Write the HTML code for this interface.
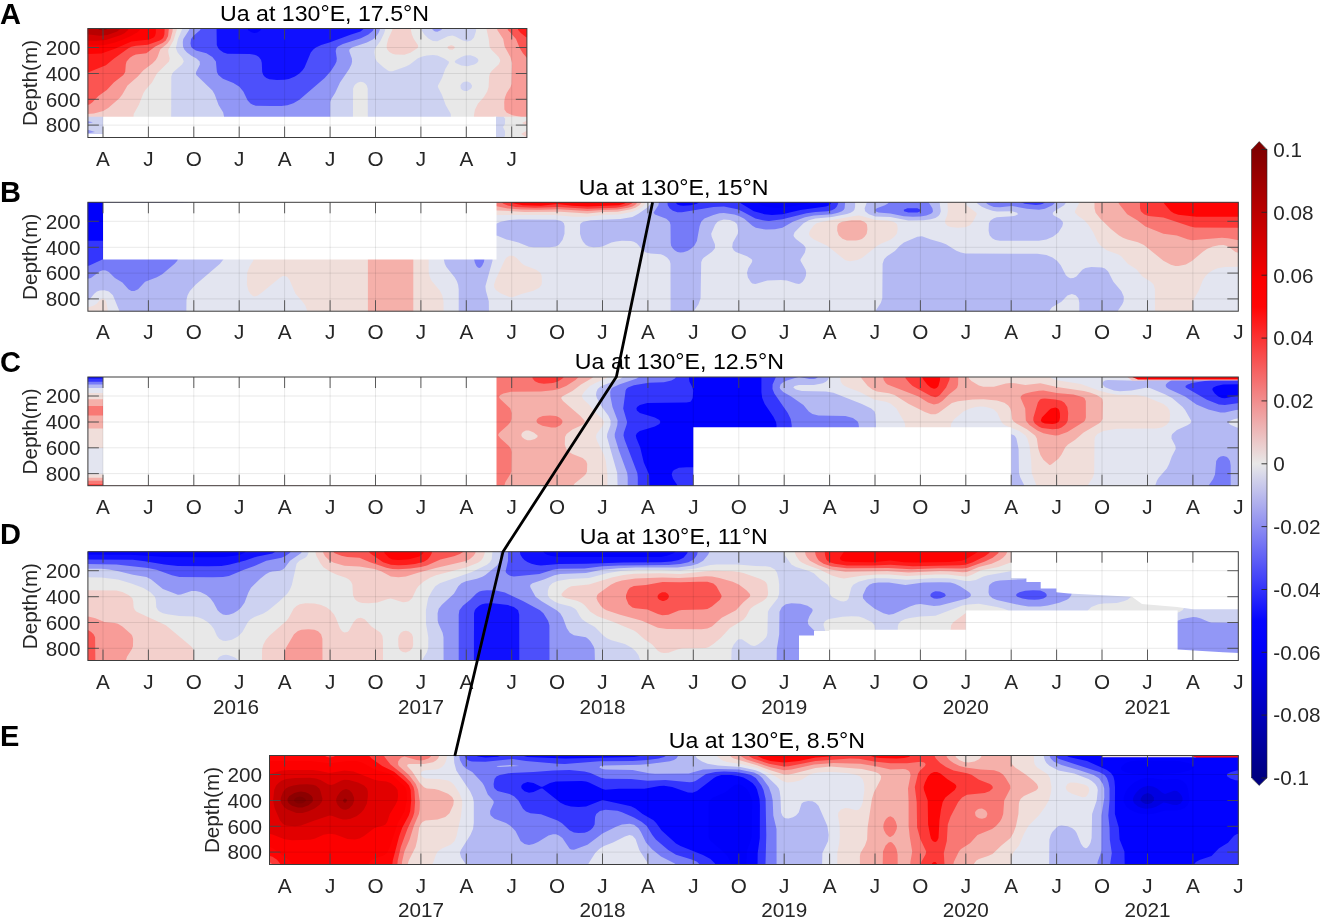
<!DOCTYPE html>
<html><head><meta charset="utf-8"><title>Ua at 130E</title>
<style>
html,body{margin:0;padding:0;background:#fff}
svg{display:block}
text{font-family:"Liberation Sans",Arial,sans-serif;fill:#262626}
.tk{font-size:20.7px}
.ti{font-size:22.5px;fill:#000}
.pl{font-size:29.6px;font-weight:bold;fill:#000}
</style></head><body>
<svg width="1320" height="920" viewBox="0 0 1320 920">
<rect width="1320" height="920" fill="#fff"/>
<clipPath id="cpA"><rect x="87.9" y="28.5" width="439.0" height="109.0"/></clipPath>
<g clip-path="url(#cpA)">
<rect x="86.9" y="27.5" width="441.0" height="111.0" fill="#e8e8e8"/>
<path d="M84.9 25.5l92.3 0-0.5 4.5-3.2 10.5-5.2 9 0 3 1.4 6-0.7 3-12.1 12-4.9 9-6.6 7.5-1.9 3-4.6 11.8-5.2 9.2-0.7 9-0.4 1.5-1.6 1.5-5.6 0.5-6-0.6-3.5-1.4-5.5-4.6-4.5-1.6-4.5-0.4-16.5 0.9zM393.1 25.5l17.5 0 0.3 4.5 1 4.5 1.9 4.5 4.1 6 0.3 1.5-0.6 1.5-7.2 4.7-6 2.1-9-0.3-3-0.8-3-1.7-2.1-2.5-0.6-1.5 0-3 1.5-6 4.1-9zM486.5 25.5l43.9 0 0 97.5-16.5-1-13.5-4.6-4.5-0.9-3 0.4-3 1.3-2.2 1.8-3.8 4.7-3 1.5-3.5-0.2-2.3-1.5-0.8-1.5-0.4-7.5 1-5.8 3-6 6-6.7 3.3-5.5 1.4-4.5 0.5-10.5 0.8-3 2.2-3 6.5-6 1.5-3 0-1.5-1.4-3-7.5-7.5-1.7-3-0.8-7.5-2-9zM447.8 46.5l3.1-1.3 1.5 0.2 2 1.1 0.4 1.5-2.4 1.8-3-0.2-1.9-1.6zM524.9 132l5.5-1.1 0 10.1-11.1 0 0.3-3 1.2-3z" fill="#f3d0cc"/>
<path d="M84.9 25.5l88.1 0-0.5 6-2.1 7.8-3 4.1-7.2 6.1-2.7 7.5-1.7 3-3.4 3.4-9 6.8-5.6 6.3-10.3 9-5.2 9-2.9 3.8-11.2 9.7-5 3-9.3 2.4-9 0.9zM496.6 25.5l33.8 0 0 92-9-0.6-9-1.6-5.9-2.8-2.1-3-0.2-7.5 0.7-4.5 1.8-4.5 3.8-6 1-3 0.6-21-1.7-6-5.8-10.5-1.4-7.5-5.9-9z" fill="#f89c98"/>
<path d="M84.9 25.5l84.3 0-1.1 10.5-2.3 4.5-2.9 2.2-7.7 3.8-8.8 6.7-10.5 1.3-3 1.2-3 2.1-3.3 3.7-0.8 3-0.6 7.5-1.8 3-9.6 7.5-7 7.5-8.4 5.9-6 6.4-3 2.1-4.5 1.3zM506.7 25.5l23.7 0 0 34.5-3-1.5-4.5-5.2-3.2-5.3-3.7-9-8.1-9z" fill="#fb5552"/>
<path d="M84.9 25.5l79.9 0-0.4 8.7-1 3.3-1.3 1.5-2.4 1.5-11.8 4.3-12 0.9-4.5 1.1-3 1.5-14.3 10.2-8.2 6.8-18 7.2-3 0.7zM516.8 25.5l13.6 0 0 13.4-4.5-1.9-5.1-4-2.6-3z" fill="#fe1c1a"/>
<path d="M84.9 25.5l71 0-0.1 7.5-0.8 3-1.4 1.5-4.2 2-18 2.1-16.5 7.1-13.5 4.9-16.5 0.4z" fill="#fe0202"/>
<path d="M84.9 25.5l55.9 0-1.1 4.5-2.3 2.3-6.6 3.7-8.4 3.7-7.5 2.8-9 2.2-6 0.7-9 0.1-6 0z" fill="#f00000"/>
<path d="M84.9 25.5l44.7 0-1.5 4.5-3.3 3-3.9 2.1-15 4.8-9 0.8-12-0.1z" fill="#d40000"/>
<path d="M84.9 25.5l36.8 0-0.9 3-3.6 3-9.8 3.4-7.5 0.9-15-1.8z" fill="#b70000"/>
<path d="M95.6 25.5l14.7 0-1.9 3-2.5 1.3-3 0.5-3-0.3-2.7-1.5z" fill="#9a0000"/>
<path d="M182.7 25.5l202.9 0-0.5 4.5-0.9 3-3.8 8-5 7-0.7 1.5-0.3 3 0.9 6 1.7 3 6.4 5.8 4.5 3.2 1.5 0.7 3 0.1 13.5-4.7 3.9-2.1 8.1-6.3 4.5-1.8 4.5-0.8 6-0.7 4.5 0.5 6.8 3.1 4.6 3 0.1 1.5-3.6 6-3.4 9.2-3.9 7.3-0.1 1.5 4 7.8 3.8 10.2 5.1 9 0.4 27-83.3 0-0.2-52.5-0.9-3-1.4-1.8-1.6-1.2-2.9-0.7-3 0.7-2.2 1.5-1.3 1.5-1.3 3-0.3 52.5-181.7 0 0.2-64.5 1-3 1.1-1.5 8.6-7.5 1.8-3-1.2-3-5-6-1.7-4.5 2-9 3.9-9zM420.9 25.5l55.5 0-0.5 6-1.9 6-2.9 3-3.7 1.1-4.5-1.1-7.5-4.1-3-0.9-4.5 0.8-10.5 5-4.5-0.3-4.5-2.6-4.5-4.5-2.3-3.9zM465.2 55.5l5.2-0.2 4.5 1.5 2.6 1.7 0.9 1.5-0.2 1.5-1.3 1.5-2.6 1.5-6.9 1.8-6-0.7-5.9-2.6-0.8-1.5 1.3-1.5 5.3-3zM462.8 82.5l1.6-0.7 3-0.2 3 1.4 1.6 2.5-0.1 1.5-0.8 1.5-3.7 2.5-3 0-2.2-1-1.4-1.5-0.4-3 0.8-1.5zM95 123l7.9 0.5 9.9 5.5 9.6 3.4 3.3 2.6 1.3 3 0.3 3-42.4 0 0-17.8zM495.4 124.5l2-0.5 2.7 0.5 2.3 1.5 1.1 1.5 0.6 3 0 10.5-30.2 0 0.5-3 1.1-1.5 2.3-1.5 10.6-3.7z" fill="#cdd2f1"/>
<path d="M190.1 25.5l190.3 0-0.6 4.5-1.3 3-2.6 3.8-3 2.8-6 2.9-15 5.1-2.5 1.9-0.2 1.5 2.7 7.5 0.2 3-0.7 3-2.2 4.5-9.2 13.5-4.9 10.5-3.8 6-1 3-0.2 39-106 0 0-24-0.9-4.5-4.6-7.5-3.9-10.5-2.3-4-16.1-15.5-0.4-1.5 0.2-1.5 3.8-7.5-0.2-3-3.2-3-5.1-2.8-4.4-3.2-2.7-3-1.3-3-0.2-4.5 0.5-3 5.8-9zM431.3 25.5l12.2 0-1 3-1.3 1.5-3.8 1.8-2.4-0.3-2.1-1.4-1-1.6zM84.9 132l0-1.2 13.5 0.1 4.5 0.8 15 4.3 2.1 2 0.6 3-35.7 0z" fill="#9297f6"/>
<path d="M201.4 25.5l173 0-0.4 3-1.1 2.2-4.5 3.9-7.5 3.6-18 5.7-5 2.6-1.4 1.5-0.8 3 1.1 7.5-0.3 3-1.4 3-4.2 6.5-6.2 7-25.3 21.7-6 3.6-6 1.9-6 0.7-10.5 0.1-15-0.3-3-0.9-2.4-1.3-2.8-3-4.4-9-3.9-4.7-6-3.9-10.5-4.2-4.5-3.7-1.5-3-1-10.5-3.5-4.4-6-3.9-10.5-2.8-3.8-2.4-1-1.5-0.6-3 0.6-4.5 2.2-3 6.9-6z" fill="#4d50fb"/>
<path d="M216.5 25.5l148.6 0-0.9 3-3.7 3-10.1 3.2-21 7.9-8.2 2.4-5.3 2.5-2.6 2-2.5 3-6.3 15-2.1 3.1-3 3-4.5 3-6 2.3-4.5 0.8-7.5 0.3-7.5-0.7-3-1.3-1.9-1.5-1.2-1.5-1.1-3-0.4-9-0.7-3-2.2-3-2.3-1.5-2.2-0.8-4.5-0.6-22.5-0.4-3.9-1.2-3.6-2.5-1.8-2-1.3-3z" fill="#1010ff"/>
<path d="M246.9 25.5l15 0-0.5 3-1 1.8-3 2.1-3 0.5-3-0.6-3-2-1-1.8z" fill="#0101fc"/>
<path d="M103 116.7H496V140H103Z" fill="#fff"/>
<path d="M86 133.5H104V140H86Z" fill="#fff"/>
<path d="M86 116.7H103V133.5H86Z" fill="#cdd2f0" stroke="none"/>
<path d="M87 121l6 1.2l-6 1.5z" fill="#9297f5" stroke="none"/>
<path d="M87 129.5l8 2.5l-8 1.5z" fill="#9297f5" stroke="none"/>
<path d="M496 116.7H505V139H496Z" fill="#cdd2f0" stroke="none"/>
<path d="M503.5 116.7H528V139H503.5L506 133L503 127L507 121Z" fill="#e8e8e8" stroke="none"/>
<path d="M528 120l-6 3l6 3zM528 130l-7 4l7 4z" fill="#f3d0cc" stroke="none"/>
</g>
<clipPath id="cpB"><rect x="87.9" y="202.3" width="1150.4" height="108.9"/></clipPath>
<g clip-path="url(#cpB)">
<rect x="86.9" y="201.3" width="1152.4" height="110.9" fill="#f0deda"/>
<path d="M367.9 199.3l45.4 0 0 115.5-45.4 0zM424.2 199.3l218 0-0.5 3-2.3 3-4 2.5-4.5 1.5-13.5 2.4-15 0.4-15 1.5-27-1.9-36 0.2-31.5-1.7-40.5-0.3-22.5-3.2-3-1.4-1.5-1.5zM1094.5 199.3l146.9 0 0 54.3-6-1.6-6.1-4.7-2.9-1.5-3-0.8-4.5 0.2-6 1.4-5.6 2.2-4.4 3-11 9.1-6 3.5-7.5 1.7-3-0.1-4.5-1.2-7.5-4-19.5-15.9-6-2.6-10.5-2.8-4.5-1.7-4.2-2.5-7.8-6.4-10.5-10.1-4.8-6-1.1-4.5zM851.6 220.3l8.8 0 3.8 1.5 1.9 1.5 0.9 1.5 0.4 4.5-0.7 4.5-2.1 3-2.7 2.1-3 1.2-3 0.5-9-0.2-4.5-1.7-3.7-3.4-1.5-4.5 0.1-4.5 0.6-1.7 1.1-1.3 3.1-1.5z" fill="#f5b0aa"/>
<path d="M432.7 199.3l205.6 0-0.7 3-2.2 2.5-3 1.6-4.5 1.3-10.5 1.8-15 0.4-15 1.1-28.5-1.8-19.5 0.5-18-0.2-13.5-1.1-15-3-37.5-0.2-12-0.7-7.5-1.2-1.8-1zM1117.3 199.3l124.1 0 0 41.4-13.5-2.5-6-0.5-30 2.5-4.5-0.9-10.5-3.8-13.5-1.8-18-7.2-8.1-6.2-10.1-6-8.3-10.5z" fill="#f97874"/>
<path d="M500.2 199.3l134 0-1.1 3-1.7 1.5-3.3 1.5-5.8 1.5-6.4 0.9-28.5 1-28.5-1.8-24 0.9-19.5-0.9-7.5-1.3-4.5-1.8-1.9-1.5zM1139.9 199.3l101.5 0 0 28.5-46.5-0.3-4.5-1-27-8.9-15-1.5-4.3-1.8-3.2-3-0.9-3z" fill="#fd3a38"/>
<path d="M508.3 199.3l120.3 0-1.8 3-2.8 1.5-5.1 1.4-31.5 1.2-15-0.7-15-1.6-16.5 1.6-18-0.4-10.5-2-2.2-1-1.4-1.5zM1162.7 199.3l78.7 0 0 17.5-45-0.1-18-1.9-4.5-1.6-3.1-1.9-6.5-7.5z" fill="#ff0404"/>
<path d="M519.8 199.3l29.3 0-1.3 1.5-3.6 1.5-9.3 0.7-10.3-0.7-3.6-1.5zM565.2 199.3l55.6 0-0.8 1.5-1.1 0.8-3 1-28.5 0.8-16.5-0.9-4.5-1.7z" fill="#fd0000"/>
<path d="M84.9 199.3l169.5 0-0.1 57-1.1 4.5-3.8 6-2.2 6-0.3 12 1.5 5.6 2 3.4 2.5 2.1 1.5 0.5 3-0.7 4.5-3.1 18-14.9 3-1.6 3 0.1 1.6 1.1 2.2 3 5.8 13.5 6.9 7.6 3 4.3 1.6 4.6 0.3 4.5-199.4 0-0.3-6-1.5-7.5-1.7-2.2-1.5-0.5-2.7 1.2-3.3 3.6-3 2.2-4.5 1.5-4.5 0.5zM646.4 199.3l300.9 0 0.6 12-0.9 4.5-1.9 4.5 0.1 3 2.2 2.4 3 1.3 7.5 0.8 7.5-0.6 4.5-2 3-3.4 3.9-7.5-0.5-1.5-9.7-7.5-1.8-3-0.5-3 115 0-0.5 4.5-3.9 7.5 0.1 1.5 2.9 3 6.4 4.5 4.1 4.4 4.8 7.6 4.2 9.1 3 4.2 6.2 4.7 11.8 4.3 2.8 1.7 6.5 7.5 8.7 5.5 6 7.1 8.4 5.4 2.9 3 1.2 4.5 0.1 25.5-711.4 0-0.1-13.5-1.3-6-2.3-4.5-8.5-10.3-1.5-3.2-1.2-4.5-0.2-55.5 0.9-3 2-1.5 6-0.6 13.5 2.2 16.5 0.9 87-0.4 19.5 1.9 13.5-0.1 15-1.6 16.5-0.6 13.5-2.8 6-2.4 4.5-2.9 2.3-2.6zM855.9 215.7l-33.7 6.1-5.7 1.5-2.6 1.9-4 5.6-1 3 0.4 1.5 1.6 1.9 3 2.3 13.3 6.3 18.2 14.5 4.5 0.9 7.5-1.1 4.5-2 15-12.1 4.5-2.5 9-3.8 3.9-2.9 2.5-3 0.9-4.5-0.5-4.5-1.1-1.5-2.6-1.5-6.1-1.2-12-0.6-13.5-4.1-3-0.5zM509.4 255.8l-3 1.9-1.5 2-9 19.2-1.9 5.9 0.4 3 1.5 2.3 4.5 3.1 9 3.7 3 0.4 9-3.3 12.1-3.2 5.8-3 2.2-3 0.4-3-0.2-6-1.4-3-4.1-3-11.9-4.5-2.9-2.2-4.5-4.9-2.8-1.9-1.7-0.6zM1217.6 268.3l7.3-1.3 16.5-0.2 0 48-48.5 0 0-12 0.6-3 5.2-9 4.1-10.5 2.6-4 3.6-3.5 3.9-2.6z" fill="#e3e5f0"/>
<path d="M84.9 199.3l139.2 0 0 55.5-0.6 4.5-3.5 4.5-24.5 21-5.6 6.2-2.3 4.3-1.1 4.5-0.2 15-66.6 0-0.6-4.5-6.2-15-4-3.8-4.5-1.3-4.5 0.3-3 1.1-2.7 2.2-4.8 5.9-4.5 1.6zM651.8 200.8l0.1-1.5 203.2 0 0 7.5-0.7 3-1.3 1.5-2.5 1.5-3.7 1.3-15 2.9-16.5 1.6-6.6 1.7-5.3 3-8.9 9-1.1 3 0.5 1.5 1.9 2.1 7.5 5.8 2 2.6 0.3 1.5-0.8 3.7-4.3 6.8-0.1 1.5 5.1 9 0.6 3-0.3 3-1.2 3-2 3-2.3 1.8-1.5 0.4-3-0.5-9-2.9-6-0.7-13.5 0.5-12 3.6-3-0.6-1.5-1.1-3-4.9-0.9-4.6 1.2-4.5 3.7-6 0.4-1.5-0.6-1.5-4.7-3-11.1-4.3-2.2-1.7-1.5-3 0.6-4.5 5-9 0.3-3-0.9-6-0.9-1.5-1.8-1.5-4.6-1.7-6-0.7-4.5 1.3-1.9 1.1-2.4 3-3.9 9 0.5 3 3.2 7.5 0.2 3-0.5 1.5-2.6 3-8.3 6-1.3 1.5-1.2 3-0.6 36-2.1 6-4.1 6-1 4.5-22.8 0-0.1-51-0.8-3-2.4-3-3.4-2.4-3-1.1-10.5-0.7-4.5-1.2-3.1-2.1-5.9-6.9-3-1.6-3-0.7-9-0.3-6 0.6-4.5 1.1-9 3.9-3 0.7-6 0.1-4.5-0.6-3-1.6-3-3.5-1.6-3.2-1.3-4.5 0.1-9 0.8-1.5 2.2-1.5 7.6-1.5 29.7-1.2 12-2.2 6-3.1 9-6.2 3.4-3.8zM867.3 199.3l71.9 0 1.6 12-1 3-1.4 1.6-3 2-4.5 1.4-7.5 0.9-15 0.2-18-3.3-15-0.7-6.5-2.1-3.8-3-0.5-3 2.3-6zM975.9 199.3l90.8 0-0.5 3-2.1 3-9.8 6-1.4 1.5-0.1 1.5 1.1 1.1 6 3.4 2.8 3 0.3 1.5-0.7 3-3.9 6.1-5.5 4.4-6.5 2.7-7.5 1.2-12 0.1-27-0.1-4.5-0.8-3.2-1.6-2.6-3-1-4.5 0.3-7.5 1.9-3 3.1-2 3-1 15-1 3.1-0.5 3-1.5-0.9-1.5-5-1.5-15.2 0.1-4.5-0.7-6-1.9-4.6-2-4.2-3-1-1.5zM448.4 220.3l7-0.2 21 3.8 4.4 0.9 7.6 2.8 1.5-0.2 4-2.6 6.7-3 8.8-1.9 9-0.5 37.5 0.3 4.5 1 2 1.1 1.5 1.5 0.7 3-0.1 7.5-1.9 6-3.7 5-3 1.7-6 0.8-16.5 0-4.5-0.5-10.5-4.2-12-3.2-9-3.7-3-0.4-1.1 3-0.8 22.5-7.1 25.5 0.5 4.5 2.9 10.5 0.2 13.5-30.3 0 0-25.5-0.6-4.5-1.2-3.5-2.3-4-8.2-10.2-1.6-3.3-1-4.5 0-34.5 1.5-3zM917.4 236.8l4.5-0.5 9 3.3 10.5 2.8 4.6 1.9 10.4 6.5 4.5 1.7 4.5 0.9 72 0.4 9 1.3 6 2.4 4.6 3.3 3.7 4.5 5.2 10 2.3 2 2.2 0.9 3-0.1 3-1.5 5.9-6.8 3.1-1.8 6-1.1 10.5 0.5 3 1.2 3.1 2.7 5.4 10.5 8 9.5 2.4 5.5-0.2 4.5-1.3 3-4.1 6-1 4.5-37.9 0 0-12-0.9-4.5-2.7-3-3.8-1.3-4.5 1.5-6 6.3-9.4 5.5-2.2 3-0.7 4.5-174.1 0 1-4.5 4.9-7.5 1.4-4.5 0.3-34.5 1.5-4.5 2.9-3 7.9-5.4 4.9-5.1 4.1-3.2z" fill="#b4b9f3"/>
<path d="M84.9 199.3l108 0-0.4 4.5-1.1 3.2-3 3.5-6 3.9-1.5 2.4-1.6 5-0.6 4.5-0.1 30-1.3 4.5-2.7 3-12.4 10.5-5.3 3-11.8 4.5-7 7.5-3.7 1.8-3-0.2-3-1.6-6-6.9-7.5-4.5-6-5.8-3-1.5-3-0.3-3 0.9-9 6.8-6 1.6zM659.3 199.3l186.1 0-0.8 9-0.8 1.5-1.9 1.5-3.9 1.5-6.1 1.4-18 1.3-8.9 1.8-12.2 4.5-10.4 6-7.5 1.5-9 0.3-10.1-1.8-3.4-2-8.1-7-5.4-2.9-4.5-1.4-10.5-1.6-4.5 0.4-6 1.6-9 3.7-3.2 3.2-1.6 4.5-2.7 14.7-2.6 4.8-3.3 3-3.1 1.9-4.5 1.6-3 0.3-3-0.7-2.7-1.6-1.8-1.7-1.8-2.8-0.4-3-0.2-18-0.9-3-3.3-3-11.4-4.3-1.4-1.7 4.9-7.5zM890 199.3l38 0 0.6 3 3.8 6 0.6 3-0.8 1.5-1.3 0.9-4.5 1.8-6 1.1-7.5 0.2-9-0.5-13.5-2.9-12-1-3-1.1-0.2-1.5 1.6-1.5 8.1-3 2.6-1.5 1.4-1.5zM984.8 199.3l71.7 0-0.9 3-3.2 3-7.5 3.5-6 1-12-1.1-15-2.7-12 1.3-6-0.4-4.5-1.6-2.4-1.5-1.3-1.5zM476.3 245.8l3.1-1 3 0.8 1.5 1.8 0.7 2.9 0 7.5-0.7 4.1-1.5 3.4-1.5 1.9-1.5 0.8-1.5-0.5-1.5-1.6-1.5-3.1-0.8-3.5-0.1-9 0.9-3z" fill="#767bf8"/>
<path d="M84.9 199.3l103.3 0-0.8 4.5-2.3 3-8.1 4.5-6.5 6-7.6 4.2-1.9 1.8-4.1 7-5.7 5-1 1.5-2.2 7.5-1.6 3-6 5.9-3 0.6-15 0.1-7.5 0.8-6 1.9-19.5 8.8-4.5 1.2zM666.9 199.3l171.8 0-0.6 4.5-1.4 3-1.8 1.9-3 1.6-4.5 1-12 0.7-9 1.2-24 6.1-13.5 1.8-4.5-0.5-9-2.2-13.5-7.2-4.5-1.9-13.5-2.7-10.5 0.5-31.5 5.2-4.5 0-4.5-1.6-3.3-2.4-1.8-3zM993 199.3l10.3 0-0.7 1.5-1.2 0.9-3 1-3.2-0.4-1.7-1.5zM1019 199.3l27.3 0-1.3 3-2.1 1.5-2.5 0.8-4.5 0.3-11.2-1.1-3.5-1.5-1.6-1.5zM907.4 208.3l10 0 3.1 1.5 0.1 1.5-3.2 1.1-4.5 0.2-4.5-0.2-4.4-1.1-0.2-1.5z" fill="#3436fd"/>
<path d="M84.9 199.3l99.3 0-0.5 3-2.4 3-7.9 4-7.5 6.1-9 4.3-6 5.9-8.8 5.2-6.2 5.6-3 1.6-4.5 1.1-12 1.6-31.5 0.1zM674.8 199.3l25.9 0-1.4 3-2.4 1.5-6 1.4-7.5 0.5-3-0.2-3-1.1-1.9-2.1zM738 199.3l94.2 0-0.6 3-0.9 1.5-1.8 1.6-3 1-25.5 3.5-18 4.4-10.5 0.6-7.5-0.7-10.5-2.9-12.4-7.5-1.8-1.5z" fill="#0202ff"/>
<path d="M84.9 199.3l94.5 0-1.5 3.3-9 4.2-6 5.4-9 3.1-7.5 4.1-3 1-10.5 1.1-13.5 0.2-34.5 0zM755 199.3l59 0-1 1.5-2.5 1.5-4.7 1.5-21.9 3.6-7.5 0.3-7.5-0.4-7.2-2-5.3-3z" fill="#0000fa"/>
<path d="M103 200H496.5V259.5H103Z" fill="#fff"/>
</g>
<clipPath id="cpC"><rect x="87.9" y="377.0" width="1150.4" height="108.7"/></clipPath>
<g clip-path="url(#cpC)">
<rect x="86.9" y="376.0" width="1152.4" height="110.7" fill="#f0deda"/>
<path d="M312.1 374l282.7 0-1.5 3-1.9 1.5-10.4 6-8.6 6.6-10.3 5.4-1 1.5 1.9 3 17.4 15 4.1 4.5 0.3 1.5-0.4 1-2.1 2-9.9 4.4-5.8 4.6-1.6 3-0.2 7.5 1.4 4.5 3 3 3.2 1.9 10.2 4.1 3.5 3 1.1 3-0.2 7.5-1.1 2.4-1.9 2.1-9.3 7.5-2 3-0.4 3-487.4 0 0-11.7 208.5 0 6-0.4 4.3-1.4 2.9-3 0.7-4.5-0.1-9-2.1-21-0.8-3-1.8-3-1.6-1.7-3-1.6-7.5-0.7-205.5 0 0-29.2 211.5-0.2 6-1.6 3-2.4 1-1.6 4.7-12zM525.9 430.5l-3 1.6-1.4 1.9-0.1 1.5 0.6 1.5 2.4 2.1 3 1.1 3 0.1 4.5-1.4 2.6-1.9 0.1-1.5-3.9-3-4.8-1.9zM859.9 374l107.9 0 1.2 4.5 2.4 2.5 7.5 4.5 4.5 1.2 10.5 0 12-3.1 4.5-0.6 4.5 0.3 10.5 1.8 15-1.9 16.5 3.7 27 4.2 6 1.4 6.8 2.5 4.9 3 1 1.5 0.4 3-0.3 16.5-1.9 3-1.9 1.5-15.3 9-8.7 7.4-6.9 4.6-2.8 3-3.8 7.3-3 4-7.5 6-1.5 0.3-6-5.4-3-4.8-2-5.9-1.6-10.5-1.7-3-8.2-6.2-10.5-5.8-3-2.2-1.4-2.3-0.8-7.5-0.9-3-2.1-3-3.8-2.7-7.5-2.3-13.5-1.2-10.5 0.3-15 1.7-6 1.8-13.5 10-3 1.1-4.5 0-6-2.1-16.5-8.4-13.8-8.7-5.7-1.8-12-1.8-4.5-1.8-4.6-3.6-6.2-7.5z" fill="#f5b0aa"/>
<path d="M315.6 374l264.1 0-1.1 3-3.1 3-9.4 6-7.2 3.1-6 1.2-12 1.1-30 0.4-7.5 1.7-3 1.5-1.3 1.5 0.3 1.5 1.3 1.5 9.6 9 1.3 4.5-0.1 6-1 3-2.5 3-8.4 7.5-1.2 1.5-0.2 1.5 2.4 3 8.3 7.5 2.1 3 0.6 3-0.2 19.5-1.3 3-4.7 7.5-0.9 3-0.4 4.5-419.2 0 0-8.7 210 0 9-0.6 4.5-1.3 3-2.6 1.3-3.3 0.4-7.5-0.4-18 1.4-6 2.5-6-1.2-3-8.5-11.5-3-2.9-3-1.6-3-0.7-6-0.3-207 0 0-9.5 207 0 9-0.5 4.5-0.9 4.6-2.1 4-3 2.1-3-2-9zM882.6 374l75.7 0-0.2 10.5-0.9 3-1.3 1.5-7 5.4-6.6 6.6-3.9 2.6-4.5 0.9-5.9-2-9.5-6-31-12-1.8-1.5-2-3zM1031.6 392l7.3-1.3 4.5-0.1 13.5 2.3 16.5 1.6 9 2.4 2 1.1 1.4 3 0.1 16.5-0.9 3-1.5 1.5-16.1 9.9-9 3.4-3 0.3-6-1-6-1.4-6-2.6-8-5.6-3.6-4.5-0.6-12-4.6-10.5 0.2-1.5 1.6-1.7 2.9-1.3zM542.8 416l7.1-0.5 6 0.6 3 1.2 2.3 1.7 1.1 1.5 0.2 1.5-0.6 1.5-1.5 1.7-4.5 2.2-4.5 0-9-1.6-4.5-2.3-1.2-1.5-0.2-1.5 0.7-1.5 1.7-1.5z" fill="#f97874"/>
<path d="M531.8 374l32.8 0-0.9 3-1.2 1.5-4.6 3-5 1.4-9 0.8-5.2-0.7-3.8-1.8-2.3-2.7zM904.4 374l45.8 0-0.8 6-3.3 7.5-6.2 7.4-2.3 1.6-2.2 0.7-4.5-1.2-18.2-10-3.2-3-3.8-4.5zM1040 399.5l1.9-0.8 3-0.3 10.5 1 6 1.4 3 1.9 2.9 4.3 0.9 6-0.4 7.5-1.5 3-1.4 1.5-3.5 2.5-3 1.2-6 0.6-10.5-1.4-3.2-1.4-3.9-3-1.5-3 0.1-3 4.5-15zM84.9 485l0-0.7 211.5 0 7.5 1 2.2 1.2 1.2 3-222.4 0z" fill="#fd3a38"/>
<path d="M921.4 374l19 0-0.5 6.5-1.5 5.5-1.5 1.8-1.5 0.8-1.5 0.1-3.3-1.2-3.4-3-3.5-4.5-1.7-3zM1051.1 408.5l4.3-1 2.5 1 1.3 1.5 0.7 3 0.1 4.5-0.6 3-1 1.5-2.6 1.5-3.4 0.5-7.5-0.4-3-1.4-1.1-1.7 1.1-3.1 7.2-7.4z" fill="#ff0404"/>
<path d="M84.9 374l224.7 0-0.4 4.5-1.8 4.5-3.5 5.1-3 2.9-4.5 1.8-10.5 0.2-201 0zM609.4 375.5l0.5-1.5 229.9 0 0.9 7.5 1.7 2.8 1.5 1.2 3.9 2 12.6 4.7 13.5 7.2 12 2.4 4.5 1.7 6 5 7.9 13.5 0.8 3 0.2 3 0 61.5-297.9 0 0-15-1.6-13.5-1.9-6.3-6.6-13.2-1.4-4.5 0.7-3 6.7-9 0.6-3-1.5-3.1-7.5-6.8-6-7.5-5.4-5.1-1.6-3 0.3-1.5 1.9-3 5.8-6 5.5-3 10.4-4.5zM1049.2 374l192.2 0 0 115.5-154.5 0 1-4.5 4.9-7.5 1.4-4.5 0.3-33 0.5-3 2.4-3 6-3 13.5-2.2 39-0.3 6-0.9 4.5-2.7 2.6-2.9 0.7-1.5 0.4-6-0.7-4.5-2.1-3-3.9-3.1-18-7.4-9.2-1.5-19.3-0.2-9-1.7-9-2.6-18-6.4-25.5-4.1-3.3-1.5-1.7-1.5zM975.7 407l4.7-0.6 4.5 0.4 6 1.4 3 1.4 3.5 3.4 3.3 7.5 2.2 3.3 3 1.9 13.4 5.3 6.2 4.5 1.8 3 2.2 7.5 1.6 13.5 0.6 13.5 4 10.5 0.9 6-97.6 0 0.3-4.5 1.5-4.5 2.1-3 4.8-4.5 1.5-3 1.4-10.5 0.1-31.5 0.5-4.5 3.2-4.5 9.1-7.5 6.5-3zM84.9 449l0-1 208.5 0.2 3 1.1 3 4.3 2 7.4 0.2 7.5-0.6 3-1.4 1.5-3.2 1-3 0.3-208.5 0z" fill="#e3e5f0"/>
<path d="M84.9 374l222.4 0-0.5 4.5-1.4 3-4.5 4.5-4.5 1.6-10.5 0.3-201 0zM624.5 375.5l0.5-1.5 204.5 0-0.3 3-1.4 3-1.9 1.7-3 1.6-9 1.8-15-0.2-4.3 1.1-1.3 1.5 2.6 1.9 6 1.7 24 0.4 7.5 1.3 28.5 11.2 9.3 4.5 3.4 3 0.8 3 0.6 9 0 66-258.3 0-0.5-16.5-10.2-36 0.2-3 3.3-9 0.1-4.5-2.2-4.7-6.5-8.8-5-9-0.9-3 0.4-3 1.3-3 3.2-2.8 20-7.7zM1147.4 374l94 0 0 43.9-6.8 1.1-3.9 1.5-2 1.5 0.2 1.5 2 1.5 6 2.5 4.5 0.8 0 61.2-86.4 0 0.4-4.5 1.6-4.5 1.9-3 7.9-9 2.3-4.5 2.7-7.5 3.9-7.5-0.3-3-3.9-7.5 0.1-3 0.7-1.5 4.6-4 10.5-4.7 2.8-1.8 1.1-1.5-0.2-1.5-6-10.5-2.4-3-10.6-9-7.2-3.8-15-6.1-3-0.6-15.4 3-11.6 0.7-6-0.6-8.3-3.1-1.8-1.5-1-1.5-0.1-1.5 0.7-1.5 1.5-1.1 3-0.4 28.5 0.8 7.5-0.3 1.5-0.7 1.1-1.3zM1007.6 434l2.8-0.1 3 1 1.5 1.1 1.5 2.5 2.2 10.5 0.4 24 1.3 4.5 3.8 7.5 0.7 4.5-77.6 0 0.3-3 1.7-3 8.9-6 5.5-7.5 7.4-6 4.9-6.1 9.1-5.9 7.4-8.2 7.5-4.6 4.5-3.8z" fill="#b4b9f3"/>
<path d="M84.9 374l220.1 0-0.7 4.5-1.9 2.9-3 2.1-4.5 0.9-210 0.2zM639.8 375.5l0.4-1.5 179 0-1.2 3-2.1 1.5-2 0.5-4.5-0.1-10.5-2.1-12 3.6-4.5 2.3-1.9 1.8-0.8 3 0.5 1.5 3 3 8 4.5 12.2 8.4 5.4 6.6 3.6 2.6 6 1.3 27 0.5 7.5 2.1 4.5 3.2 1.1 2.3 0.4 3 0 63-231.2 0 0-12-0.5-4.5-8.3-22.6-4.1-13.4-0.1-3 2.6-9 0.3-4.5-5.1-13.5-2.1-10.5-0.2-4.5 0.9-3 1.6-1.5 6.5-3 17.5-6 2.1-1.5zM1177.5 374l63.9 0 0 35.4-5.4 0.6-11.1 2.5-4.5 0.1-12-3.1-12-5-11.3-8-16.3-7.5-2.2-1.5-0.9-1.5 0.2-1.5 1.3-1.5 8.7-6zM1220.6 456.5l2.8-0.5 3 0.8 1.7 1.2 1.9 3 0.7 4.5 0 24-22.7 0 1-4.5 4.1-6 1.9-4.5 1.2-13.5 2-3z" fill="#767bf8"/>
<path d="M84.9 374l217.6 0-0.4 3-2.2 3-2 1.1-4.5 0.6-208.5 0.1zM676.6 374l99.9 0-0.6 3-3.3 7.5-0.1 4.5 1.8 4.5 13.5 19.5 2.9 6 1 6 0.2 21 4.6 16.5 2.4 3.6 4.9 3.9 5.6 6.2 7.5 4.3 3 2.3 1.4 2.2 0.7 4.5-184.2 0 0-12-0.5-4.5-12.6-33-1.2-4.5 0.4-3 2.6-7.5 0.6-3-3.9-13.5 2.4-18 0.7-1.5 1.7-1.5 5.9-2.2 15-2.5 15-0.6 7.5-1.6 3.5-2.1 1.1-1.5zM1223.9 375.5l2.6-1.5 14.9 0 0 28.6-16.5 2.5-6-0.7-12-4.7-21.2-12.2-0.2-1.5 2.2-1.5 4.2-1.5 19.4-3 5.4-1.5z" fill="#3436fd"/>
<path d="M84.9 374l214 0-1 2.8-1.5 1-3 0.6-7.5 0.1-201 0zM688.5 374l72.9 0 0 18 0.8 6 2.5 6 8.7 12.7 2.6 5.3 0.5 3 0.1 18 0.5 4.5 1.4 3 7.2 7.5 1 3-0.2 1.5-1.1 2.3-3 1.9-4.5 0.6-91.5 0-7.5 0.5-4.9 2.2-1.4 1.5-0.9 3 1.2 4.1 4.3 6.4 1 4.5-28.7 0-0.4-15-5.3-12-3.6-15-3.7-9-0.7-3 1.1-2.3 2.9-2.2 15.1-4.5 4.5-2.6 1-1.9-1-1.9-4.5-2.6-15-4.5-3-2.5-0.5-2 0.7-1.5 2.8-2 7.5-2.1 39-0.4 3-0.4 1.5-0.7 1.8-3.4 0.5-7.5-0.7-3-3.1-6.1zM1223.2 384.5l18.2-0.3 0 10.9-16.5 3.1-3-0.3-3.6-1.4-3.5-3-2.1-3-0.4-1.5 1-1.5 3.2-1.5z" fill="#0202ff"/>
<path d="M103 375H496.5V488H103Z" fill="#fff"/>
<path d="M693.3 427.2H1011.2V488H693.3Z" fill="#fff"/>
<path d="M1126 376H1240V380.6H1132Z" fill="#f5c0bc" stroke="none"/>
<path d="M1130 376H1240V379.6H1138Z" fill="#ff0000" stroke="none"/>
</g>
<clipPath id="cpD"><rect x="87.9" y="551.7" width="1150.4" height="108.8"/></clipPath>
<g clip-path="url(#cpD)">
<rect x="86.9" y="550.7" width="1152.4" height="110.8" fill="#e8e8e8"/>
<path d="M315.3 548.7l169.8 0-0.4 4.5-1.6 4.5-2.3 3-2.9 2-12 4.9-30 7.6-6 2.6-6.5 3.9-5 4.5-2.1 3-4.2 9-3.4 3-2.8 0.9-3 0.1-12-3.6-3 0.5-10.5 3.5-9 0.6-6-0.3-3-0.7-2.2-1-2.3-2-1.9-4-0.6-10.5-1.3-3-2.2-2.2-3-1.7-9-3-6-2.7-7.5-4.9-3-3.9-3.9-7.1-0.9-3zM794.3 548.7l264.1 0-1.2 3-1.8 1.3-9 3-7.5 3.6-6 0.9-19.5 1-15 5.6-18 3.4-9 4.6-4.5 1.3-4.5-0.1-15-1.8-12 0.1-28.5 1.5-18-1.6-12 0-15.4 1.2-17.6 2.8-4.5-0.7-7.5-2.3-11.8-5.8-13.7-4.9-4.5-2.2-2.5-1.9-3.1-4.5-1.3-3zM705.7 571.2l7.7-0.5 19.5 0.6 6 0.6 4.5 1.1 16.5 5.8 4.5 2.2 1.5 1.3 1.3 2.4 0.9 7.5-0.2 3-1.6 3-3.4 2.8-8.7 4.7-3.3 2.6-1.5 1.9-3.1 6-2.9 3.6-13.5 8.3-9 9.6-7.5 6.4-4.5 2.9-3 0.9-24 0.5-4.5 1-9 3.3-4.5 0.4-3-0.6-3.1-1.8-5.9-6.4-7.5-5-7.2-6.6-3.3-2.3-19.8-8.2-16.6-6-7.1-4.4-6-6.9-2.9-2.2-4.6-1.9-10.4-2.6-3.6-1.5-1.4-1.5 0.1-1.5 2.6-3 3.9-3 3.2-1.5 17.6-1.8 23.8-7.2 10.7-2.2 10.5-1.3 25.5-0.5 21 0.9zM84.9 590.7l0-0.5 31.5 0.3 6 1.6 6.5 3.1 3.5 3 0.8 3 0.4 6 1.4 3 1.6 1.5 29.3 13.5 25.1 21 1.3 1.5 1.3 3 0.2 13.5-108.9 0zM299.7 604.2l5.7-0.9 9 0.2 6 1.2 6 2.5 4 3 3.5 4.1 1.9 3.4 4.1 10.5 2.2 3 2.3 1.4 3-0.6 1.5-1.3 4.5-8.5 3-3.3 1.5-0.7 3-0.5 3.8 1.5 6.7 7.4 9 5.9 2 3.2 0.6 4.5 0 24-121.1 0 0.2-15 1.2-4.5 2.3-4.5 3.8-4.4 17.1-15.1 2.4-3.1 4.7-8.9 2.8-2.7zM965.4 613.2l4.5-0.1 10.5 3.2 4.5 2.4 1.9 2 1.3 3 0.7 10.5 1.1 3 2.5 2.8 5.8 4.7 2 3 0.7 4.5 0.1 12-50.3 0 0-34.5 0.4-4.5 2.2-3zM403.2 631.2l2.7-0.5 3 0.7 3 2.7 1.1 3.1 0.2 7.5-0.7 3-2.5 3-4.1 1.7-3-0.4-2.2-1.3-1.3-1.5-1-3-0.2-7.5 0.6-3 2-3z" fill="#f3d0cc"/>
<path d="M322.5 548.7l153.8 0-1 4.5-1.9 2.9-3.8 3.1-3.7 1.8-30 7-17.9 4.7-12.1 3.9-7.5 0.6-7.5-0.8-9.8-5.2-6.7-2.3-15-2.4-15-0.8-10.5-3-4.5-2.3-4.3-4.2-1.7-3zM804.4 548.7l203.3 0-0.4 3-1.4 3-2.9 3-3.1 2.2-8.3 3.8-12.7 3.4-12 4.8-4.5 0.3-11.8-1-10.7-0.1-31.5 1.4-21-1.5-42 0.7-15-2.3-11.9-4.2-8.6-4.5-2.6-3-1.7-3zM693.4 577.2l12.5-0.9 6 0.2 7.5 1.5 13.3 3.7 6.5 3 7.2 5.6 3.3 3.4 0.6 1.5-0.5 1.5-6.4 5.5-7.4 8-14.3 7.5-9.8 8.8-4.5 2.1-6 0.6-34.5-0.1-9-1.3-15.9-7.1-21.9-6-13.6-4.5-2.7-1.5-2.9-2.8-3.2-4.7-1.2-3 0.6-3 1.2-1.5 12.5-9 5.1-2.5 6-1.7 13.5-1.9 27-1.2 16.5 0.6zM84.9 617.7l0-1.4 4.5 0.4 6 1.6 9 3.7 10.5 1 3 0.8 4.5 2.7 8.8 7.7 1 1.5 0.9 3-0.1 7.5-1.2 3-4.8 7.5-0.9 3-0.4 4.5-40.8 0zM301.4 629.7l7-0.5 6 0.5 3.7 1.5 3 3 1.3 4.5 0.1 25.5-37.9 0 0.1-12 1.3-4.5 8-13.5 3.9-3.2z" fill="#f89c98"/>
<path d="M332.1 548.7l132.5 0-1.1 3-3.6 2.4-6 2.1-13.5 3.3-13.5 6-6 1.5-10.5 1.5-12 0.7-6-0.2-6-1.2-16.3-5.6-10.7-4.4-12-0.8-6-1.2-6.6-2.6-1.6-1.5zM814.5 548.7l185.2 0-1.4 4.5-5.6 4.5-7.8 3.9-18 6.4-4.5 0.6-24-0.4-27 1.1-22.5-1.4-42 0.3-15-1.8-8.3-2.7-4.6-3-2.1-3-1.3-3zM698.9 581.7l8.5 0 6 1.9 3 2.6 5 9 0.2 1.5-1.7 3-8 6.8-4.5 2.4-4.5 0.7-21 0.3-3 0.7-10.5 4.1-6 0.5-4.5-1.3-10.5-4.3-12-1.3-3-0.8-3.9-3.3-2.5-6 0-3 1.9-4.9 2-2.6 4-1.8 12-0.8 16.5-3 18 0.2zM84.9 629.7l3 0.4 3 1.6 2.7 2.5 1.5 3 0.3 27-10.5 0z" fill="#fb5552"/>
<path d="M368 548.7l64.5 0-0.8 4.5-1.5 3-2.4 3-3.9 2.6-9 2.2-9 1-7.5 0.2-7.5-0.4-7.8-2.6-13.1-9-1.1-1.5zM824.6 548.7l166.3 0-0.9 3-1.1 1.5-4 3-12.1 6-7.4 2.6-6 0.5-46.5 0.9-22.5-1.4-18 0.7-25.5-0.1-12-1.6-5.1-1.6-2.4-1.5-1.2-1.5-1.2-4.5zM662.1 592.2l3.3 0.1 2.3 1.4 1 1.5 0.2 1.5-0.6 1.5-1.4 1.5-3 1.4-1.5 0-3-1.3-1.5-1.6-0.4-1.5 0.4-1.5 1.3-1.5z" fill="#fe1c1a"/>
<path d="M383.1 548.7l41.2 0-1.1 4.5-3.8 3.4-10.5 2.7-10.5 0.7-6-0.5-3.5-1.8-4.3-4.5zM844.6 548.7l134.6 0-1.5 3-1.9 1.5-9.9 6-4.1 1.5-12.9 1.4-34.5 0.4-10.5-0.3-13.5-1.8-18 1.8-19.5-0.1-7.5-0.5-3.4-0.9-1.9-1.5-0.2-1.5 4-6z" fill="#fe0202"/>
<path d="M84.9 548.7l224 0-0.5 4.5-1.5 3-1.7 1.5-5.8 3.1-2.8 2.9-4.7 21-1.8 4.5-2.8 4.5-7.9 7.5-11.5 9.6-4.5 2.6-9 3.5-3.8 2.3-2.8 3-5.4 9.9-4.5 4.5-6 3.2-6 1.3-3-0.4-3.7-2-2.3-3-3-6.6-2.8-3.9-3.2-3-4.7-3-4.3-1.6-4.5-1-15-0.6-12-1.7-4.4-1.1-3.1-1.5-1.9-1.5-1.7-3-0.5-7.5-1-3-4.4-4.5-7-4.1-12.7-4.9-12.8-3.6-16.5-2.2-16.5-0.2zM492.8 548.7l289.9 0 0.4 3 1.4 3 6.9 9.7 4.5 2.5 13.6 4.3 4.4 2.1 6 5.6 7.9 5.8 1.6 3 0.5 6 1.9 3 6.1 3.4 3 1.1 3 0.4 3-1.2 1.7-2.2 2.7-10.5 1.9-3 5.4-3 9.3-2.4 7.5-1 10.5-0.1 21 1.6 25.5-1.5 13.5-0.1 7.5 0.6 12 2.3 4.5 0 6-1.2 7.5-3.3 4.5-1.4 24-4.2 12-0.7 18-5.6 3-1.3 6.4-4.2 10.1-4.4 2.3-3.1 0.5-3 68.1 0 0 43.5-0.5 3-1.4 2.3-2.9 2.2-3.1 1.4-7.5 1.8-13.5 0.5-5.1 0.8-6.9 2.8-3.5 3.2-1 4.5 0 49.5-74.1 0-0.1-16.5-1.4-13.5-0.5-21-1-1.5-2.2-1.5-3.8-1.5-6.9-1.8-18-3.1-10.5 0.7-6 1.1-27 10.1-15 0.8-10.5 1.5-5.2 1.2-3.8 2.1-2.3 2.4-0.8 3-0.1 37.5-22.7 0 0-34.5-0.5-4.5-2.5-3-8.6-4.3-4.5-1.3-7.5-0.4-9 0.6-13.5 2.3-3 1.4-1.5 1.4-0.8 1.8 0 1.5 2 7.5 1.5 3 1.8 1.7 7.9 4.3 6.4 7.5 8.2 4.1 2.3 1.9 2.3 4.5 0.5 4.5-125.3 0 0.4-15 2-4.5 3.8-4.7 1.5-0.8 3 0 9 6 3 0.8 1.5-0.2 3-1.5 4.5-3.6 3-3.2 0.9-1.8 0.6-3 0.5-21 1.6-3 8.2-10.5 1.4-4.5 0.1-9-0.7-6-1.5-6-2.1-3.3-4.5-2.4-4.5-0.7-10.5-0.2-18-1.5-21 0-6 0.3-15 3.7-15 2-19.5-0.7-24 0.1-16.5 1.1-13.5 2.1-18 4.8-19.5 0.9-12 2-5.1 2.3-3 3-1.4 4.5-0.1 4.5 1.9 3 4.7 3.3 4.5 1.9 12 3.1 4.1 2.2 1.5 1.5 3.4 6.1 2.2 2.9 3.8 2.7 9 5.1 9 9 3 2.3 4.5 2 13.5 3.7 6.8 3.7 3.7 3.2 3 4.2 1.6 4.6 0.4 4.5-219.5 0 0.5-3 5.5-9 1.3-4.5 0.1-10.5-2.3-13.5-0.1-13.5 2.2-12 4-7.5 3.2-4.5 4.5-3 32.1-11.3 15-7.2 3-2.5 1.8-3zM1177.7 548.7l63.7 0 0 115.5-120.7 0 0.8-6 2.9-3.9 9-4.8 6.8-7.8 8.3-4.5 5.9-7.5 9.9-6 4.4-6 2.2-2.1 9-3.9 2.5-1.5 1.2-1.5 0.3-1.5-0.7-3-4.6-7.5-0.8-3zM222.8 655.2l3.1-0.4 3 0.4 6 2.2 2.9 2.3 0.9 1.5 0.5 3-22.6 0 0.2-3 1.3-3 1.8-1.7z" fill="#cdd2f1"/>
<path d="M84.9 548.7l217.6 0-0.7 3-0.9 1.5-10.9 7.5-5.6 7.6-1.5 1.3-3 1.2-7.5 0.6-3 0.8-3.6 2-5.6 4.5-9.2 9-2.6 4.7-3.9 10.3-3.6 5.1-3 2.7-4.4 2.7-4.6 1.6-3 0.3-3-0.6-3-1.9-2.3-2.4-4-7.5-3.3-4.5-3.9-3.3-6-2.9-4.5-1-4.5 0.1-10.5 3.3-3 0.3-15-5.8-12-9.7-4.5-2.2-13.5-2.3-14.3-3.5-9.7-1.7-7.5-0.7-16.5-0.1zM500.3 548.7l209.7 0-0.5 3-1.4 3-4.9 6-5.3 3-7 2-13.5 1.8-42-0.1-17.1 0.8-16.4 1.5-16 3.4-25.5 0.8-6 1.4-10.5 4.2-11.5 3.7-2 1.5-0.3 1.5 0.5 1.5 5 9 6 4.5 15 9 3.6 3 2.7 4.5 3.9 10.5 3 4.5 4.1 2.5 12 2 2.1 1.5 2.4 2.6 3.1 4.9 1.1 3 0.4 15-151.4 0-0.1-27-0.9-4.5-4.1-9-0.8-3-0.1-7.5 1.1-4.5 3.2-3.9 12-11.1 4.4-7.5 3.1-3 4.5-2 11-2.5 5.5-1.9 3-1.8 11.9-9.8 2.6-4.5zM1070.2 548.7l9.1 0-0.1 10.5-1.3 5.2-5.7 8.3-0.5 19.5-0.4 3-2.2 3-2.2 1.5-7.6 3-11.4 2.9-7.5 0.9-12 0-7.5-1.2-24-5.4-4.4-1.7-3.3-3-0.7-3 0.4-6 0.7-1.5 2.8-2.2 3-1.2 4.5-0.9 24-1.2 6-1.3 3-1.8 5.4-4.9 11.1-4.1 6.2-4.9 10.7-4.5 1.7-1.5 1.7-3zM872.9 583.2l5.5-0.8 10.5 0.1 16.5 2.4 18-2.3 16.5-0.4 10.5 0.4 4.5 1.2 5.2 2.4 9.1 6 1.4 1.5 0.4 1.5-0.8 1.5-3.3 1.8-27 7-6 0.6-13.5-2.1-4.5 0.4-6 2.1-16.5 7.5-4.5 0.8-5.5-1.6-8.7-4.5-8.3-6.5-3.4-4-0.2-3 3.5-7.5 3-3zM785.7 604.2l5.7-1 9 0.5 7.1 2 4.6 3 0.6 1.5-0.5 1.5-2.8 4.6-1.6 4.4 0.3 3 0.8 1.5 6.5 6.6 6 9.6 9 5.2 7.5 7.9 7.5 3.7 2.3 3 0.5 3-71.6 0 0.2-15 2.4-15 0.3-22.5 2.3-4.5zM1188.8 617.7l4.6-0.6 3 0.2 4.5 1.3 7.5 3.2 3 0.7 30 0.2 0 41.5-112.5 0 0.4-3 2.4-3 7.7-3.8 2.4-2.2 3.6-4.5 10-6 5-6.5 3-2.2 6.2-3.3 7.3-8.6 4.5-1.8z" fill="#9297f6"/>
<path d="M84.9 548.7l207.1 0-1.2 3-1.4 1.5-4.4 3-3.6 1.6-15.1 2.9-11.9 5.3-10.5 3.7-15 6.3-6 1-10.5 0.2-33-0.2-7.5-1.7-15.4-5.6-8.6-1.8-31.5-3.3-31.5-0.6zM508.1 548.7l190.3 0-1.3 6-3.1 4.5-5.6 3-8 1.9-12 0.8-49.5 0.6-16.5 0.8-18 2.1-25.5 0.3-6 1-13.5 4.2-25.5 2.5-3-0.3-3-1.5-1.8-1.9-0.5-1.5 2.4-10.5zM482.2 590.7l4.7-0.5 9 0.2 9 2.2 18 8.3 17.1 9.3 3.4 3 4.7 7.5 1.3 4.5 0.1 39-90.8 0 0-49.5 0.7-4.5 3.5-4.5 7.3-6 6.2-6.2 3-1.9zM1025.2 590.7l7.7-0.5 7.5 0.4 4.1 1.6 1.7 1.5 0.6 1.5-0.5 1.5-2.9 1.9-4.5 1-4.5 0.2-6-0.2-6-1-5.1-1.9-1.3-1.5 0.8-1.5 2.6-1.4zM932.8 592.2l2.6-0.9 4.5 0.2 4.5 1.8 1.5 1.9-1.3 1.5-3.8 1.5-3.9 0.6-3-0.4-3.1-1.7-0.5-1.5 0.6-1.5z" fill="#4d50fb"/>
<path d="M84.9 548.7l192 0-1.5 3-3 1.8-15 2.9-12 4-16.5 4.4-7.5 1.3-13.5 0.1-30-0.2-13.5-1.4-19.5-3.4-12-1.5-48-0.3zM519.3 548.7l168.9 0-0.9 4.5-3.8 4.5-4.6 2.3-7.5 1.4-10.5 0.8-37.5 0.2-37.5 1.3-27 0.2-18 1.7-4.5-0.5-5-1.4-4-1.8-3-2-2.1-2.2-1.9-3zM482 604.2l3.4-0.8 7.5-0.1 15 1.8 6 1.8 4.2 3.3 1.1 4.5 0.1 49.5-45.4 0 0.1-51 0.8-3 1-1.5 3.3-3z" fill="#1010ff"/>
<path d="M84.9 548.7l161.8 0-1.2 3-1.6 1.4-4.5 1.9-15 1.9-15 0.3-43.5-0.1-34.5-2.4-46.5-0.1zM542.1 548.7l134.4 0-1.1 3-1.8 1.5-6.7 2.6-6 1.1-87 0.2-15-0.1-7.5-1-4.2-1.3-2.6-1.5-1.5-1.5z" fill="#0101fc"/>
<path d="M1011.3 549H1241V609.2H1192.9L1177 607L1142 604L1132 596.7L1069 593.6L1056.4 592.3V588.4H1040.7V581.9H1026.4V578H1011.3Z" fill="#fff"/>
<path d="M799 663V635.5H814V631H829V629.7H965.7V610.5H1177.6V649.6L1223 652.2L1241 653V663Z" fill="#fff"/>
</g>
<clipPath id="cpE"><rect x="269.5" y="755.5" width="968.8" height="109.0"/></clipPath>
<g clip-path="url(#cpE)">
<rect x="268.5" y="754.5" width="970.8" height="111.0" fill="#f0deda"/>
<path d="M266.5 752.5l173.3 0-0.4 3-1.4 3-2 2.1-3 1.6-9 1.8-15 0.1-1.4 0.4-0.5 1.5 4.9 5.2 7.5 11.4 4.5 4.6 3 1.2 7.5 0.6 4.2 1 9.3 3.7 3 2.2 1.5 1.7 1.3 2.9-0.5 4.5-3.8 8.3-4.2 3.7-7.8 2.5-12 0.9-3 1.6-1.5 1.7-1.8 3.8-1.8 12-1.8 7.5-6.8 13.5-0.9 3-0.4 4.5-141 0zM728.7 752.5l225.8 0 1.4 4.5 3.3 3 4.8 2.1 4.5 0.5 6-1.1 4.5-2.3 2.1-2.2 1.3-4.5 28.8 0 0.1 9 1 3 2.9 3 11.2 7.5 6.6 5.2 3.9 3.8 1.3 3-0.3 1.5-1.9 2.1-12 5.4-3 2.6-1.3 1.9-0.8 3-0.5 10.5-2.4 12-2.5 6.7-3 5.3-9.1 7.5-8.9 8.4-4.5 2.1-9 2.9-2.6 1.6-2.3 3-0.7 4.5-113.5 0 0-12 0.6-3 4.5-7.6 2.1-5.9 0.5-12 4.3-28.5 2.1-6.7 6.7-12.8 0.4-3-0.8-1.5-1.8-1.5-3.3-1.5-13.2-3-31.5-2.4-15 1.4-22.5 5.7-4.5 0.8-4.5-0.1-13.5-4.1-13.5-5-23.2-6.8-2.6-1.5-1.5-1.5z" fill="#f5b0aa"/>
<path d="M266.5 752.5l165.6 0-0.7 3-1.1 1.5-2 1.5-4.2 1.5-3.1 0.4-4.5-0.3-12-3.6-3 1-1.5 1.2-1.9 2.8 0 3 0.8 1.5 10.1 9 6.8 9 2.3 6 1.8 12-0.2 7.5-0.8 4.5-5.1 12-4.2 13.5-5.2 12-2.4 10.5-0.4 6-135.1 0zM738.5 752.5l207.1 0 1.2 4.5 2.5 3 4.2 3.1 6 2.9 6 1.5 15 2 13.5 0.8 5.4 1.7 3.6 2.6 2.7 3.4 4.5 7.5 0.2 3-6.2 12-1 13.5-1.5 4.5-1.7 3-4 4.5-3.9 3-14.6 6.1-7.5 8.1-9 5.7-2.1 2.6-5.1 10.5-0.9 6-42.8 0 0.3-6 1.8-10.5-2.5-15-1.1-10.5 0-24-0.6-13.5 2.6-13.5-0.9-3-1.4-1.5-2.8-1.2-2.4-0.3-12.6 0.4-13.5-3-16.5-2.7-27-0.6-19.5 1.3-22.5 5.2-7.5 0.7-13.5-3.1-24-7.8-6-3.3-1.6-2.1zM977.5 809.5l-1.7 1.5-0.8 1.5 0.5 3 1.3 1.5 2.2 1.3 3 0.5 3-0.7 1.4-1.1 1-3-0.9-2.4-1.5-1.7-3-1.3-3 0.2zM888.2 817l2.3-0.7 3 1.8 2.2 3.4 1.3 4.5-0.3 3-1.7 3.8-1.5 2.1-3 2.1-1.5-0.3-3-2.7-1.9-3.5-0.8-3 0.2-3 1-2.9 1.5-2.6zM888.6 842.5l1.9-0.6 1.5 0.7 2.7 2.9 1.8 3.5 1.1 5.5 0.1 13.5-15.1 0 0.4-16.5 2.6-6z" fill="#f97874"/>
<path d="M266.5 752.5l116.6 0 1.5 4.5 5.9 7.5 13.1 10.5 6.9 7 3 5 1 4.5 0.6 10.5-0.8 10.5-1.4 4.5-5.5 12-6.6 18-3.1 13.5-0.6 7.5-124.1 0-0.6-3-0.9-1.5-2-1.5-3-0.9zM416.4 752.5l7.5 0-1.4 2.3-1.5 0.7-1.5 0-2.5-1.5zM746.5 752.5l187.6 0 0.3 3 1.4 3 4.4 4.5 5.8 4.1 7.5 3.5 13.5 2.6 4.5 1.6 7.5 5 11 4.2 1.9 1.5 0.9 1.5-0.2 1.5-3.1 2.7-4.9 1.8-17.6 1.8-4.9 2.7-3.9 4.5-7.7 14.8-2.7 7.7-1 16.5-3 12 0.9 15-24.3 0 0.9-6 4.2-7.5 0.7-3-5.7-12-3.4-12-0.4-25.5-1.9-15 3.3-13.5 2-3 4.9-4.5 0.6-1.5-0.6-1.5-1.5-0.8-3-0.4-13.5 1.4-16.5 0-16.5-1.6-15-2.9-9-0.3-34.5 2.7-27 5.1-4.5 0.4-15-2.9-15.9-5.2-5.2-3z" fill="#fd3a38"/>
<path d="M266.5 752.5l56.2 0 1.5 3 2.8 1.5 2.5 0.4 3.6-0.4 2.4-1.2 1.5-1.8 0.4-1.5 30.6 0 0.9 3 2.8 3 10.5 7.5 11.8 5.7 12 10.3 3 3.5 1.7 4.5 0.5 10.5-1 10.5-1.4 4.5-6.5 12-3.2 9-6.3 24-0.9 7.5-110.9 0-0.9-4.5-3.1-3.8-4.5-3-6-1.7zM754.5 752.5l82.3 0-0.7 1.5-2.1 1.5-3.5 1-15 1-16.5 3.4-15 1.7-13.5-1.7-7.5-2.1-6.7-3.3zM867.7 752.5l45 0-1.5 3-2.7 1.6-4.5 1-7.5 0.3-16.5-0.5-6-0.7-4.2-1.7-1.5-1.5zM934 772l3 0 3.4 1.5 7.1 5.7 7.5 4.7 1.1 1.6 0.3 1.5-1.7 3-9.3 7.5-2.7 4.5-1.7 7.5-1.5 10.5-1 18-1.4 3-1.6 0.9-1.5-0.1-1.5-1-1.5-2.4-0.9-3.4-2-10.5-0.4-24-3.7-10.5-0.4-3 1.4-4.5 2.9-6 2.9-3zM933.7 862l1.8 0 1.3 1.5 0.8 4.5-6.7 0 1.1-4.5z" fill="#ff0404"/>
<path d="M764.3 752.5l42.2 0-0.8 1.5-2 1.5-4.5 1.5-15.2 1.1-13.8-1.1-3.7-1.5-1.5-1.5zM266.5 761.5l0-0.5 43.5 0 19.5 2.2 18-2.1 9 0 6 1.6 13.5 7.5 12 3 3.8 1.8 13.4 12 1.5 4.5 0.1 9-2.3 10.8-6.7 11.7-8.3 25.1-2.6 4.9-3.4 2.6-9 2.9-3.6 2-2.3 3-0.7 4.5-75.7 0-0.6-4.5-2.6-3.5-16.5-11.9-3-1.4-3-0.7z" fill="#fd0000"/>
<path d="M282.1 770.5l6.9-0.5 24 0.1 6 0.6 10.5 2.2 15-2.4 9 1.1 21 8.2 4.5 1 7.5 0.6 4.5 1.9 4.6 3.7 2 3 0.5 6-0.6 4.5-2 4.3-5.7 9.2-2.4 7.5-1.9 3-2 1.1-6 1.3-3 1.2-10.5 8-4.5 2.5-4.5 0.8-7.5-0.3-12-4.6-6-0.8-6 1.1-9 4-4.5 0.9-18 0.5-7.5-0.9-12-4.9-6-1.2 0-58.6z" fill="#e20000"/>
<path d="M295.3 778l14.7-0.2 6 0.6 4.5 1.6 7.5 4.3 3 0.7 3-0.8 7.5-3.6 3-0.8 4.5 0.3 9 2.5 6.1 2.9 2.9 3 0.8 3 0.1 4.5-1 7.5-2.9 5.8-3 3.5-4.5 3.4-6 2.5-4.5 0.8-3-0.1-4.5-1.1-6-2.3-3-0.4-15 4.9-13.5 5.1-6 0.7-9-0.9-3-1.5-3-3.3-5.4-12.6-1.5-7.5 1.1-10.5 1.9-4.5 2.4-2.6 3-2.2 4.5-1.7z" fill="#c50000"/>
<path d="M293.4 785.5l6.1-1 7.5-0.2 6 0.5 3 0.9 3.3 2.8 1.3 3 1.9 7.5-0.8 3-2.4 3-4.8 3.5-6 2.8-6 1.8-6 0-9-3.5-3-2.1-3-4-0.9-3 0.3-3 2.1-5.4 2.8-3.6 3.2-1.7zM342.9 790l3.1-0.9 3.1 0.9 3 3 1.9 4.5 0.2 3-1.7 4.5-3.5 3.6-3 1.2-3-0.3-2.7-1.5-2.6-3-1.4-3-0.1-3 1.2-3 2.6-3.7z" fill="#a90000"/>
<path d="M294.3 793l3.7-1.1 3-0.3 4.5 0.7 3 1.2 3 2.3 1.1 1.7 0.3 3-0.6 1.5-3.8 3.3-6 2.2-4.5 0.1-6-1.9-3-2.1-1.2-1.6-0.4-3 1.9-3zM343.9 799l0.6-0.4 1.9 0.4 0.6 1.5-1 2-1.5 0.2-0.9-0.7-0.6-1.5z" fill="#8c0000"/>
<path d="M296.2 797.5l3.3-0.9 3 0.3 3 2 0.4 1.6-1 1.5-2.4 1.3-4.6 0.2-3-1.5-0.8-1.5 0.3-1.5z" fill="#800000"/>
<path d="M447.2 752.5l268.9 0 0.7 3 1 1.5 4.7 3.4 4.5 1.5 13.5 2.2 16.5 3.9 13.1 5.5 5.7 3 6.7 4.5 4.5 1.5 6-0.4 6-1.3 3-1.3 7.5-4.7 3.3-1.3 5.7-1 10.5-0.6 7.5 0.3 12 1 7.5 1.6 4.2 1.7 2.6 3 1.3 4.5 0.3 6-1.6 12-1.6 4.5-2.2 3-3 0.8-7.5-2.1-3.1-0.2-4.4 1.5-2.6 3-0.4 3 1.6 10.5 0.2 10.5-0.5 6-2 10.5-0.1 15-407.9 0 3.7-4.9 3-8.6 1.8-3 4.2-2.9 9-4 3.6-3.6 1.8-4.5 4.4-19.5 1.4-12 0-4.5-2.9-7.5-5.3-8.2-3-2.7-3-1.5-9-1.5-13.5-0.7-3-1.4-1.6-2 0.1-2.6 1.5-1.4 3-0.7 10.5-0.7 3-0.8 3-1.8 2.3-2.5 1.5-3 1.2-4.5zM962.8 752.5l7.6 0-0.4 1.5-1.1 1.5-1.9 0.7-2.8-0.7zM1033.9 752.5l207.6 0 0 115.5-230.3 0 0.6-10.5 1.2-4.5 6-7.5 5-11.8 4.5-8 10.5-10.5 6-8.1 3.8-6.6 2.1-7.5 0.6-6-1.6-9-1.7-3-1.6-1.5-9.4-6-2.5-3-0.7-3zM1070.5 782.4l-3.1 1.6-1.7 3 0.3 2 1.9 2.5 4.1 2.2 10.5 3.5 3-0.3 1.5-1.3 1.5-2.6 0.8-3-0.8-2.8-1.5-1.4-3-1.4-7.5-1.7z" fill="#e3e5f0"/>
<path d="M453.5 752.5l240.9 0 0.6 3 2.3 3 4.7 3 5.5 2.2 10.5 1.8 22.5 1.6 15 3.1 4.6 1.8 5.3 3 11.1 10.5 2.3 3 0.9 3 0.8 6 0.6 15 1.2 3 1.7 1.9 1.5 0.8 3 0.4 4.5-1.4 3-1.7 2.7-3 2.9-9 2-1.5 4.4-0.9 4.5 0.2 3 1.4 3 3 8.9 20.3 1.3 9-0.6 6-5.7 12-0.4 15-173.1 0-1-4.5-8.6-13.5-3.8-10.9-3-3.4-3-0.6-4.6 1.4-11.9 6-9 3.5-4.5 2.7-4.3 4.3-6.7 10.5-1.1 4.5-121.1 0-1-4.5-4.1-6-1.3-4.5 1-3 9.5-15 2.6-6 0.8-6 0-21-0.9-4.5-2.7-6-13.9-21-2-7.5zM1043.6 752.5l197.9 0 0 115.5-192.4 0 0.3-28.5 1.3-4.5 1.6-3 4.7-5 1.5-0.9 3-0.5 6 0.7 4.5 1.6 3 2.6 1.5 2.2 4.5 11 2.3 3.3 2.2 1.2 1.5-0.3 2.1-2.4 1.5-3 1-4.5 0.5-24 4.6-13.5 1.1-10.5-0.7-3-1.9-3-3.4-3-3.3-2.1-14.3-5.4-15.7-3.1-9-4.6-3-2.7-1.5-2.5-1.1-3.6z" fill="#b4b9f3"/>
<path d="M458.7 752.5l220 0-0.4 3-1.9 3-2.4 1.5-4 1.2-21 2.9-9 0.7-36 0.6-3.8 0.6-0.8 1.5 2.9 1.5 3.2 0.6 27 0.4 16.5 3.3 6 0.4 33.8-0.2 14.2-3.9 15-0.7 21 0.7 15 2.9 5 2.5 3.3 3 6.5 9 2.7 7.5 1.2 6 0.6 15 3.2 13.5 0.1 39-98.5 0-1.4-3-2-1.5-13.7-6.9-9-7.4-6-6.7-5.1-10.5-2.4-3.8-4.5-3.4-4.5-1-7.5 0.7-6 2.2-13.5 6.9-15 11.2-13.5 5-3-0.4-1.5-1-7.1-10.4-3.4-2.6-3-1.1-3 0-4.5 1.3-10.5 6.4-4.5 2-4.5 0.9-4.5-0.8-3.9-3.1-5.1-9.9-4.5-4.9-5-3.2-11.5-4.3-3.7-3.2-0.6-1.5-0.1-3 3.4-7.5 0.3-1.5-0.6-1.5-5.4-6-3.8-9-1.9-3-9.9-10.5-6.2-3.5-3-2.8-3.1-5.7zM497.5 765.9l-0.9 0.1 0.9 0.7 3 0.3 18.8-1-8.3-1.1zM1049.1 752.5l192.4 0 0 115.5-144.5 0 0.6-6 3.2-9 0.6-3 0.1-34.5 2.8-18-0.1-9-1.3-4.5-3.9-5.8-5.3-3.2-14.2-4.8-18-5.2-7.5-3.3-3.3-3.2-1.3-3z" fill="#767bf8"/>
<path d="M464.2 752.5l203.7 0-1.3 3-2.6 1.6-5.3 1.4-11.2 1.5-15 0.9-33 0.3-34.5 2.7-7.5-0.2-31.5-2.8-13.5-1.8-27 2.6-13.5-0.2-3-0.7-3-2.1-1.5-3.2zM1054.6 752.5l186.9 0 0 115.5-131.9 0 2.2-15-2-13.5-0.3-12-1.2-12 1.2-15 0-12-1-6-1.6-4.5-2.2-3-5.5-3-40.7-13.2-3-2.8zM553.3 770.5l16.2-0.6 15 1.6 6 1.4 10.5 4.8 4.5 1 25.5 0.3 16.5 1.7 18-0.8 24 2.4 3-0.2 3-1 10.5-7 9.3-2.1 8.7-0.6 12 0.6 9 1.4 6 1.6 4.8 3 5.6 7.5 2.1 4.5 2.1 9 0.7 36-0.9 33-64.6 0-0.6-3-3.2-3.2-4.5-2.1-16.5-5-7.8-4.7-12.4-10.5-3.5-4.5-5.5-9-5.3-4.3-7.5-4.1-12-5.4-4.5-1.5-12-1-5.6 1.3-3.7 3-1.1 3-0.5 7.5-1.6 3-2.5 2.4-3 1.8-3 1-6 0.2-4.5-0.5-4.5-2.2-7.5-7-4.5-2.7-16.5-6.3-10.5-1-4.5-1.6-3-2.9-4.6-8.2-4.4-4.2-4.5-2.4-12-3-2.9-2.4-0.7-1.5-0.3-3 0.9-5 1.9-2.5 3.3-1.5 11.3-2.1 22.5-0.8z" fill="#3436fd"/>
<path d="M474.1 752.5l29.8 0-0.7 1.5-1.9 1.5-3.8 1.3-12 0.8-7.5-1.1-2.1-1-1.3-1.5zM519.5 752.5l127.9 0-1.3 1.5-3.5 1.5-8.6 1.6-69 1.3-37.5-1.3-5.4-1.6-1.9-1.5zM1064.5 752.5l177 0 0 17.6-4.8 0.4-5.7 1.4-3.3 1.6-0.9 1.5 0.5 1.5 3.7 2.3 4.5 1.4 6 0.7 0 52.2-4.5 1-3 1.7-6 6.9-9 5.6-7.5 7.6-12 4.2-3.6 1.9-2.5 3-0.5 3-68.1 0-0.4-16.5-4.8-12-0.8-12-3.9-13.5 0.1-27-0.5-6-1.1-4.5-2.4-3.5-4.5-3.2-19.5-8.8-18.2-4-2.5-1.5zM721.4 775l10.1 0.1 7.5 1.1 4.5 1.4 4.5 2.3 4.5 3.2 3 3.4 1.5 3 2.5 9.5 0.4 6-0.1 33-2.1 15-0.2 15-41.5 0-1-4.5-4.5-4.4-7.5-4-22.5-9.2-4.5-2.4-14.4-13-5.4-7.5-2.7-2.7-10.9-6.3-7.1-5.6-4.5-2.1-28.5-6.4-16.5 6.6-7.5 0.5-7.5-0.5-5.8-1.5-4.7-2.3-18-14.1-1.5-0.1-7.5 3.5-4.5 0.8-4.5-1.6-2.8-2.7-0.5-1.5 0.3-1.5 1.5-1.8 4.5-1.7 6 1 7.5 3.8 1.5 0 7.5-3.7 6-1.6 25.5-0.5 4.5 0.5 3 0.9 13.5 6.6 3 0.7 13.5-1 25.5 0 15-2.8 4.5-0.2 8.2 1.3 15.8 5.5 4.5 0.3 4.5-1.7 16.9-13.1 2.6-1.5z" fill="#0202ff"/>
<path d="M1129.9 761.5l9.6-0.9 39 0.4 10.5 2.3 3 1.5 1.3 1.2 0.2 1.5-1.3 1.5-3.1 1.5-9.1 2.2-27 2-7.5 0-13.5-1.3-6-1.2-3.8-1.7-1.1-1.5 0-1.5 0.9-1.5 4-3zM1146.6 778l3.4-0.1 13.5 1.9 13.5-0.8 3 0.7 3 1.5 3 2.9 1.8 4.4 1.6 10.5-0.4 3-1.4 3-3.1 2.9-4.5 1.9-4.5 0.6-10.5 0.1-10.5 2.9-6 0.8-9-0.8-4.5-1.4-5.1-2.5-3.6-3-2.5-4.5-0.1-4.5 2.2-6 3.2-4.5 5.3-4.5 6.6-3.2zM734 785.5l2-0.8 3-0.1 3 1 3 1.9 2.4 2.5 1.9 3 2.9 7.5-0.7 37.5-4.8 13.5-0.4 16.5-15.1 0-0.7-6-3-6-3.5-3.8-13.2-11.2-1.2-1.5-1-3-0.1-30 0.5-4.5 2.2-3 2.2-1.5 12.1-5.2z" fill="#0000fa"/>
<path d="M1143.1 787l5.4-1.2 4.5 0.7 4.2 2 4.8 4.1 3 1.5 9-3.3 3 0.3 3 2.4 1.5 2 0.9 2 0.2 3-2 3-3.6 1.5-4.5-0.2-6-1.9-3-0.3-7.5 4.1-4.5 1.6-6 0.5-4.5-1-3-1.4-3.6-2.9-1-1.5-0.5-3 1-3 2.6-3.8 3-2.9z" fill="#0000e2"/>
<path d="M1143.9 794.5l3.1-1.2 1.5 0 2.9 1.2 2.5 3 0 3-2.4 2.4-3 1.1-3-0.1-3-1.3-1.8-2.1-0.1-1.5 1.6-3z" fill="#0000c5"/>
<path d="M1102 754H1196V757.3H1102Z" fill="#ecdadd" stroke="none"/>
<path d="M1185 754H1240V757.6H1196Z" fill="#ff1010" stroke="none"/>
</g>
<path d="M103.0 28.5V137.5M148.4 28.5V137.5M193.8 28.5V137.5M239.2 28.5V137.5M284.6 28.5V137.5M330.1 28.5V137.5M375.5 28.5V137.5M420.9 28.5V137.5M466.3 28.5V137.5M511.7 28.5V137.5M87.9 47.5H526.8M87.9 73.5H526.8M87.9 99.3H526.8M87.9 125.1H526.8" stroke="#000" stroke-opacity="0.085" stroke-width="1" fill="none"/>
<path d="M103.0 28.5v11M103.0 137.5v-11M148.4 28.5v11M148.4 137.5v-11M193.8 28.5v11M193.8 137.5v-11M239.2 28.5v11M239.2 137.5v-11M284.6 28.5v11M284.6 137.5v-11M330.1 28.5v11M330.1 137.5v-11M375.5 28.5v11M375.5 137.5v-11M420.9 28.5v11M420.9 137.5v-11M466.3 28.5v11M466.3 137.5v-11M511.7 28.5v11M511.7 137.5v-11M87.9 47.5h11M526.8 47.5h-11M87.9 73.5h11M526.8 73.5h-11M87.9 99.3h11M526.8 99.3h-11M87.9 125.1h11M526.8 125.1h-11" stroke="#4a4a4a" stroke-width="0.9" fill="none"/>
<rect x="87.9" y="28.5" width="439.0" height="109.0" fill="none" stroke="#3c3c3c" stroke-width="1"/>
<text class="tk" transform="translate(80.4 54.8) scale(1.0 1)" text-anchor="end">200</text>
<text class="tk" transform="translate(80.4 80.8) scale(1.0 1)" text-anchor="end">400</text>
<text class="tk" transform="translate(80.4 106.6) scale(1.0 1)" text-anchor="end">600</text>
<text class="tk" transform="translate(80.4 132.4) scale(1.0 1)" text-anchor="end">800</text>
<text class="tk" transform="translate(36.9 83.0) rotate(-90) scale(1.0 1)" text-anchor="middle">Depth(m)</text>
<text class="tk" transform="translate(103.0 165.5) scale(1.0 1)" text-anchor="middle">A</text>
<text class="tk" transform="translate(148.4 165.5) scale(1.0 1)" text-anchor="middle">J</text>
<text class="tk" transform="translate(193.8 165.5) scale(1.0 1)" text-anchor="middle">O</text>
<text class="tk" transform="translate(239.2 165.5) scale(1.0 1)" text-anchor="middle">J</text>
<text class="tk" transform="translate(284.6 165.5) scale(1.0 1)" text-anchor="middle">A</text>
<text class="tk" transform="translate(330.1 165.5) scale(1.0 1)" text-anchor="middle">J</text>
<text class="tk" transform="translate(375.5 165.5) scale(1.0 1)" text-anchor="middle">O</text>
<text class="tk" transform="translate(420.9 165.5) scale(1.0 1)" text-anchor="middle">J</text>
<text class="tk" transform="translate(466.3 165.5) scale(1.0 1)" text-anchor="middle">A</text>
<text class="tk" transform="translate(511.7 165.5) scale(1.0 1)" text-anchor="middle">J</text>
<text class="ti" transform="translate(324.5 21.0) scale(1.03 1)" text-anchor="middle">Ua at 130°E, 17.5°N</text>
<text class="pl" transform="translate(0.0 23.9) scale(0.98 1)">A</text>
<path d="M103.0 202.3V311.2M148.4 202.3V311.2M193.8 202.3V311.2M239.2 202.3V311.2M284.6 202.3V311.2M330.1 202.3V311.2M375.5 202.3V311.2M420.9 202.3V311.2M466.3 202.3V311.2M511.7 202.3V311.2M557.1 202.3V311.2M602.5 202.3V311.2M647.9 202.3V311.2M693.3 202.3V311.2M738.8 202.3V311.2M784.2 202.3V311.2M829.6 202.3V311.2M875.0 202.3V311.2M920.4 202.3V311.2M965.8 202.3V311.2M1011.2 202.3V311.2M1056.6 202.3V311.2M1102.0 202.3V311.2M1147.5 202.3V311.2M1192.9 202.3V311.2M87.9 221.3H1238.3M87.9 247.3H1238.3M87.9 273.1H1238.3M87.9 298.9H1238.3" stroke="#000" stroke-opacity="0.085" stroke-width="1" fill="none"/>
<path d="M103.0 202.3v11M103.0 311.2v-11M148.4 202.3v11M148.4 311.2v-11M193.8 202.3v11M193.8 311.2v-11M239.2 202.3v11M239.2 311.2v-11M284.6 202.3v11M284.6 311.2v-11M330.1 202.3v11M330.1 311.2v-11M375.5 202.3v11M375.5 311.2v-11M420.9 202.3v11M420.9 311.2v-11M466.3 202.3v11M466.3 311.2v-11M511.7 202.3v11M511.7 311.2v-11M557.1 202.3v11M557.1 311.2v-11M602.5 202.3v11M602.5 311.2v-11M647.9 202.3v11M647.9 311.2v-11M693.3 202.3v11M693.3 311.2v-11M738.8 202.3v11M738.8 311.2v-11M784.2 202.3v11M784.2 311.2v-11M829.6 202.3v11M829.6 311.2v-11M875.0 202.3v11M875.0 311.2v-11M920.4 202.3v11M920.4 311.2v-11M965.8 202.3v11M965.8 311.2v-11M1011.2 202.3v11M1011.2 311.2v-11M1056.6 202.3v11M1056.6 311.2v-11M1102.0 202.3v11M1102.0 311.2v-11M1147.5 202.3v11M1147.5 311.2v-11M1192.9 202.3v11M1192.9 311.2v-11M87.9 221.3h11M1238.3 221.3h-11M87.9 247.3h11M1238.3 247.3h-11M87.9 273.1h11M1238.3 273.1h-11M87.9 298.9h11M1238.3 298.9h-11" stroke="#4a4a4a" stroke-width="0.9" fill="none"/>
<rect x="87.9" y="202.3" width="1150.4" height="108.9" fill="none" stroke="#3c3c3c" stroke-width="1"/>
<text class="tk" transform="translate(80.4 228.6) scale(1.0 1)" text-anchor="end">200</text>
<text class="tk" transform="translate(80.4 254.6) scale(1.0 1)" text-anchor="end">400</text>
<text class="tk" transform="translate(80.4 280.4) scale(1.0 1)" text-anchor="end">600</text>
<text class="tk" transform="translate(80.4 306.2) scale(1.0 1)" text-anchor="end">800</text>
<text class="tk" transform="translate(36.9 256.8) rotate(-90) scale(1.0 1)" text-anchor="middle">Depth(m)</text>
<text class="tk" transform="translate(103.0 339.2) scale(1.0 1)" text-anchor="middle">A</text>
<text class="tk" transform="translate(148.4 339.2) scale(1.0 1)" text-anchor="middle">J</text>
<text class="tk" transform="translate(193.8 339.2) scale(1.0 1)" text-anchor="middle">O</text>
<text class="tk" transform="translate(239.2 339.2) scale(1.0 1)" text-anchor="middle">J</text>
<text class="tk" transform="translate(284.6 339.2) scale(1.0 1)" text-anchor="middle">A</text>
<text class="tk" transform="translate(330.1 339.2) scale(1.0 1)" text-anchor="middle">J</text>
<text class="tk" transform="translate(375.5 339.2) scale(1.0 1)" text-anchor="middle">O</text>
<text class="tk" transform="translate(420.9 339.2) scale(1.0 1)" text-anchor="middle">J</text>
<text class="tk" transform="translate(466.3 339.2) scale(1.0 1)" text-anchor="middle">A</text>
<text class="tk" transform="translate(511.7 339.2) scale(1.0 1)" text-anchor="middle">J</text>
<text class="tk" transform="translate(557.1 339.2) scale(1.0 1)" text-anchor="middle">O</text>
<text class="tk" transform="translate(602.5 339.2) scale(1.0 1)" text-anchor="middle">J</text>
<text class="tk" transform="translate(647.9 339.2) scale(1.0 1)" text-anchor="middle">A</text>
<text class="tk" transform="translate(693.3 339.2) scale(1.0 1)" text-anchor="middle">J</text>
<text class="tk" transform="translate(738.8 339.2) scale(1.0 1)" text-anchor="middle">O</text>
<text class="tk" transform="translate(784.2 339.2) scale(1.0 1)" text-anchor="middle">J</text>
<text class="tk" transform="translate(829.6 339.2) scale(1.0 1)" text-anchor="middle">A</text>
<text class="tk" transform="translate(875.0 339.2) scale(1.0 1)" text-anchor="middle">J</text>
<text class="tk" transform="translate(920.4 339.2) scale(1.0 1)" text-anchor="middle">O</text>
<text class="tk" transform="translate(965.8 339.2) scale(1.0 1)" text-anchor="middle">J</text>
<text class="tk" transform="translate(1011.2 339.2) scale(1.0 1)" text-anchor="middle">A</text>
<text class="tk" transform="translate(1056.6 339.2) scale(1.0 1)" text-anchor="middle">J</text>
<text class="tk" transform="translate(1102.0 339.2) scale(1.0 1)" text-anchor="middle">O</text>
<text class="tk" transform="translate(1147.5 339.2) scale(1.0 1)" text-anchor="middle">J</text>
<text class="tk" transform="translate(1192.9 339.2) scale(1.0 1)" text-anchor="middle">A</text>
<text class="tk" transform="translate(1238.3 339.2) scale(1.0 1)" text-anchor="middle">J</text>
<text class="ti" transform="translate(673.7 194.7) scale(1.03 1)" text-anchor="middle">Ua at 130°E, 15°N</text>
<text class="pl" transform="translate(0.0 201.8) scale(0.98 1)">B</text>
<path d="M103.0 377.0V485.7M148.4 377.0V485.7M193.8 377.0V485.7M239.2 377.0V485.7M284.6 377.0V485.7M330.1 377.0V485.7M375.5 377.0V485.7M420.9 377.0V485.7M466.3 377.0V485.7M511.7 377.0V485.7M557.1 377.0V485.7M602.5 377.0V485.7M647.9 377.0V485.7M693.3 377.0V485.7M738.8 377.0V485.7M784.2 377.0V485.7M829.6 377.0V485.7M875.0 377.0V485.7M920.4 377.0V485.7M965.8 377.0V485.7M1011.2 377.0V485.7M1056.6 377.0V485.7M1102.0 377.0V485.7M1147.5 377.0V485.7M1192.9 377.0V485.7M87.9 396.0H1238.3M87.9 422.0H1238.3M87.9 447.8H1238.3M87.9 473.6H1238.3" stroke="#000" stroke-opacity="0.085" stroke-width="1" fill="none"/>
<path d="M103.0 377.0v11M103.0 485.7v-11M148.4 377.0v11M148.4 485.7v-11M193.8 377.0v11M193.8 485.7v-11M239.2 377.0v11M239.2 485.7v-11M284.6 377.0v11M284.6 485.7v-11M330.1 377.0v11M330.1 485.7v-11M375.5 377.0v11M375.5 485.7v-11M420.9 377.0v11M420.9 485.7v-11M466.3 377.0v11M466.3 485.7v-11M511.7 377.0v11M511.7 485.7v-11M557.1 377.0v11M557.1 485.7v-11M602.5 377.0v11M602.5 485.7v-11M647.9 377.0v11M647.9 485.7v-11M693.3 377.0v11M693.3 485.7v-11M738.8 377.0v11M738.8 485.7v-11M784.2 377.0v11M784.2 485.7v-11M829.6 377.0v11M829.6 485.7v-11M875.0 377.0v11M875.0 485.7v-11M920.4 377.0v11M920.4 485.7v-11M965.8 377.0v11M965.8 485.7v-11M1011.2 377.0v11M1011.2 485.7v-11M1056.6 377.0v11M1056.6 485.7v-11M1102.0 377.0v11M1102.0 485.7v-11M1147.5 377.0v11M1147.5 485.7v-11M1192.9 377.0v11M1192.9 485.7v-11M87.9 396.0h11M1238.3 396.0h-11M87.9 422.0h11M1238.3 422.0h-11M87.9 447.8h11M1238.3 447.8h-11M87.9 473.6h11M1238.3 473.6h-11" stroke="#4a4a4a" stroke-width="0.9" fill="none"/>
<rect x="87.9" y="377.0" width="1150.4" height="108.7" fill="none" stroke="#3c3c3c" stroke-width="1"/>
<text class="tk" transform="translate(80.4 403.3) scale(1.0 1)" text-anchor="end">200</text>
<text class="tk" transform="translate(80.4 429.3) scale(1.0 1)" text-anchor="end">400</text>
<text class="tk" transform="translate(80.4 455.1) scale(1.0 1)" text-anchor="end">600</text>
<text class="tk" transform="translate(80.4 480.9) scale(1.0 1)" text-anchor="end">800</text>
<text class="tk" transform="translate(36.9 431.4) rotate(-90) scale(1.0 1)" text-anchor="middle">Depth(m)</text>
<text class="tk" transform="translate(103.0 513.7) scale(1.0 1)" text-anchor="middle">A</text>
<text class="tk" transform="translate(148.4 513.7) scale(1.0 1)" text-anchor="middle">J</text>
<text class="tk" transform="translate(193.8 513.7) scale(1.0 1)" text-anchor="middle">O</text>
<text class="tk" transform="translate(239.2 513.7) scale(1.0 1)" text-anchor="middle">J</text>
<text class="tk" transform="translate(284.6 513.7) scale(1.0 1)" text-anchor="middle">A</text>
<text class="tk" transform="translate(330.1 513.7) scale(1.0 1)" text-anchor="middle">J</text>
<text class="tk" transform="translate(375.5 513.7) scale(1.0 1)" text-anchor="middle">O</text>
<text class="tk" transform="translate(420.9 513.7) scale(1.0 1)" text-anchor="middle">J</text>
<text class="tk" transform="translate(466.3 513.7) scale(1.0 1)" text-anchor="middle">A</text>
<text class="tk" transform="translate(511.7 513.7) scale(1.0 1)" text-anchor="middle">J</text>
<text class="tk" transform="translate(557.1 513.7) scale(1.0 1)" text-anchor="middle">O</text>
<text class="tk" transform="translate(602.5 513.7) scale(1.0 1)" text-anchor="middle">J</text>
<text class="tk" transform="translate(647.9 513.7) scale(1.0 1)" text-anchor="middle">A</text>
<text class="tk" transform="translate(693.3 513.7) scale(1.0 1)" text-anchor="middle">J</text>
<text class="tk" transform="translate(738.8 513.7) scale(1.0 1)" text-anchor="middle">O</text>
<text class="tk" transform="translate(784.2 513.7) scale(1.0 1)" text-anchor="middle">J</text>
<text class="tk" transform="translate(829.6 513.7) scale(1.0 1)" text-anchor="middle">A</text>
<text class="tk" transform="translate(875.0 513.7) scale(1.0 1)" text-anchor="middle">J</text>
<text class="tk" transform="translate(920.4 513.7) scale(1.0 1)" text-anchor="middle">O</text>
<text class="tk" transform="translate(965.8 513.7) scale(1.0 1)" text-anchor="middle">J</text>
<text class="tk" transform="translate(1011.2 513.7) scale(1.0 1)" text-anchor="middle">A</text>
<text class="tk" transform="translate(1056.6 513.7) scale(1.0 1)" text-anchor="middle">J</text>
<text class="tk" transform="translate(1102.0 513.7) scale(1.0 1)" text-anchor="middle">O</text>
<text class="tk" transform="translate(1147.5 513.7) scale(1.0 1)" text-anchor="middle">J</text>
<text class="tk" transform="translate(1192.9 513.7) scale(1.0 1)" text-anchor="middle">A</text>
<text class="tk" transform="translate(1238.3 513.7) scale(1.0 1)" text-anchor="middle">J</text>
<text class="ti" transform="translate(679.4 369.3) scale(1.03 1)" text-anchor="middle">Ua at 130°E, 12.5°N</text>
<text class="pl" transform="translate(0.0 371.5) scale(0.98 1)">C</text>
<path d="M103.0 551.7V660.5M148.4 551.7V660.5M193.8 551.7V660.5M239.2 551.7V660.5M284.6 551.7V660.5M330.1 551.7V660.5M375.5 551.7V660.5M420.9 551.7V660.5M466.3 551.7V660.5M511.7 551.7V660.5M557.1 551.7V660.5M602.5 551.7V660.5M647.9 551.7V660.5M693.3 551.7V660.5M738.8 551.7V660.5M784.2 551.7V660.5M829.6 551.7V660.5M875.0 551.7V660.5M920.4 551.7V660.5M965.8 551.7V660.5M1011.2 551.7V660.5M1056.6 551.7V660.5M1102.0 551.7V660.5M1147.5 551.7V660.5M1192.9 551.7V660.5M87.9 570.7H1238.3M87.9 596.7H1238.3M87.9 622.5H1238.3M87.9 648.3H1238.3" stroke="#000" stroke-opacity="0.085" stroke-width="1" fill="none"/>
<path d="M103.0 551.7v11M103.0 660.5v-11M148.4 551.7v11M148.4 660.5v-11M193.8 551.7v11M193.8 660.5v-11M239.2 551.7v11M239.2 660.5v-11M284.6 551.7v11M284.6 660.5v-11M330.1 551.7v11M330.1 660.5v-11M375.5 551.7v11M375.5 660.5v-11M420.9 551.7v11M420.9 660.5v-11M466.3 551.7v11M466.3 660.5v-11M511.7 551.7v11M511.7 660.5v-11M557.1 551.7v11M557.1 660.5v-11M602.5 551.7v11M602.5 660.5v-11M647.9 551.7v11M647.9 660.5v-11M693.3 551.7v11M693.3 660.5v-11M738.8 551.7v11M738.8 660.5v-11M784.2 551.7v11M784.2 660.5v-11M829.6 551.7v11M829.6 660.5v-11M875.0 551.7v11M875.0 660.5v-11M920.4 551.7v11M920.4 660.5v-11M965.8 551.7v11M965.8 660.5v-11M1011.2 551.7v11M1011.2 660.5v-11M1056.6 551.7v11M1056.6 660.5v-11M1102.0 551.7v11M1102.0 660.5v-11M1147.5 551.7v11M1147.5 660.5v-11M1192.9 551.7v11M1192.9 660.5v-11M87.9 570.7h11M1238.3 570.7h-11M87.9 596.7h11M1238.3 596.7h-11M87.9 622.5h11M1238.3 622.5h-11M87.9 648.3h11M1238.3 648.3h-11" stroke="#4a4a4a" stroke-width="0.9" fill="none"/>
<rect x="87.9" y="551.7" width="1150.4" height="108.8" fill="none" stroke="#3c3c3c" stroke-width="1"/>
<text class="tk" transform="translate(80.4 578.0) scale(1.0 1)" text-anchor="end">200</text>
<text class="tk" transform="translate(80.4 604.0) scale(1.0 1)" text-anchor="end">400</text>
<text class="tk" transform="translate(80.4 629.8) scale(1.0 1)" text-anchor="end">600</text>
<text class="tk" transform="translate(80.4 655.6) scale(1.0 1)" text-anchor="end">800</text>
<text class="tk" transform="translate(36.9 606.1) rotate(-90) scale(1.0 1)" text-anchor="middle">Depth(m)</text>
<text class="tk" transform="translate(103.0 688.5) scale(1.0 1)" text-anchor="middle">A</text>
<text class="tk" transform="translate(148.4 688.5) scale(1.0 1)" text-anchor="middle">J</text>
<text class="tk" transform="translate(193.8 688.5) scale(1.0 1)" text-anchor="middle">O</text>
<text class="tk" transform="translate(239.2 688.5) scale(1.0 1)" text-anchor="middle">J</text>
<text class="tk" transform="translate(284.6 688.5) scale(1.0 1)" text-anchor="middle">A</text>
<text class="tk" transform="translate(330.1 688.5) scale(1.0 1)" text-anchor="middle">J</text>
<text class="tk" transform="translate(375.5 688.5) scale(1.0 1)" text-anchor="middle">O</text>
<text class="tk" transform="translate(420.9 688.5) scale(1.0 1)" text-anchor="middle">J</text>
<text class="tk" transform="translate(466.3 688.5) scale(1.0 1)" text-anchor="middle">A</text>
<text class="tk" transform="translate(511.7 688.5) scale(1.0 1)" text-anchor="middle">J</text>
<text class="tk" transform="translate(557.1 688.5) scale(1.0 1)" text-anchor="middle">O</text>
<text class="tk" transform="translate(602.5 688.5) scale(1.0 1)" text-anchor="middle">J</text>
<text class="tk" transform="translate(647.9 688.5) scale(1.0 1)" text-anchor="middle">A</text>
<text class="tk" transform="translate(693.3 688.5) scale(1.0 1)" text-anchor="middle">J</text>
<text class="tk" transform="translate(738.8 688.5) scale(1.0 1)" text-anchor="middle">O</text>
<text class="tk" transform="translate(784.2 688.5) scale(1.0 1)" text-anchor="middle">J</text>
<text class="tk" transform="translate(829.6 688.5) scale(1.0 1)" text-anchor="middle">A</text>
<text class="tk" transform="translate(875.0 688.5) scale(1.0 1)" text-anchor="middle">J</text>
<text class="tk" transform="translate(920.4 688.5) scale(1.0 1)" text-anchor="middle">O</text>
<text class="tk" transform="translate(965.8 688.5) scale(1.0 1)" text-anchor="middle">J</text>
<text class="tk" transform="translate(1011.2 688.5) scale(1.0 1)" text-anchor="middle">A</text>
<text class="tk" transform="translate(1056.6 688.5) scale(1.0 1)" text-anchor="middle">J</text>
<text class="tk" transform="translate(1102.0 688.5) scale(1.0 1)" text-anchor="middle">O</text>
<text class="tk" transform="translate(1147.5 688.5) scale(1.0 1)" text-anchor="middle">J</text>
<text class="tk" transform="translate(1192.9 688.5) scale(1.0 1)" text-anchor="middle">A</text>
<text class="tk" transform="translate(1238.3 688.5) scale(1.0 1)" text-anchor="middle">J</text>
<text class="ti" transform="translate(673.7 544.2) scale(1.03 1)" text-anchor="middle">Ua at 130°E, 11°N</text>
<text class="pl" transform="translate(0.0 543.9) scale(0.98 1)">D</text>
<path d="M284.6 755.5V864.5M330.1 755.5V864.5M375.5 755.5V864.5M420.9 755.5V864.5M466.3 755.5V864.5M511.7 755.5V864.5M557.1 755.5V864.5M602.5 755.5V864.5M647.9 755.5V864.5M693.3 755.5V864.5M738.8 755.5V864.5M784.2 755.5V864.5M829.6 755.5V864.5M875.0 755.5V864.5M920.4 755.5V864.5M965.8 755.5V864.5M1011.2 755.5V864.5M1056.6 755.5V864.5M1102.0 755.5V864.5M1147.5 755.5V864.5M1192.9 755.5V864.5M269.5 774.5H1238.3M269.5 800.5H1238.3M269.5 826.3H1238.3M269.5 852.1H1238.3" stroke="#000" stroke-opacity="0.085" stroke-width="1" fill="none"/>
<path d="M284.6 755.5v11M284.6 864.5v-11M330.1 755.5v11M330.1 864.5v-11M375.5 755.5v11M375.5 864.5v-11M420.9 755.5v11M420.9 864.5v-11M466.3 755.5v11M466.3 864.5v-11M511.7 755.5v11M511.7 864.5v-11M557.1 755.5v11M557.1 864.5v-11M602.5 755.5v11M602.5 864.5v-11M647.9 755.5v11M647.9 864.5v-11M693.3 755.5v11M693.3 864.5v-11M738.8 755.5v11M738.8 864.5v-11M784.2 755.5v11M784.2 864.5v-11M829.6 755.5v11M829.6 864.5v-11M875.0 755.5v11M875.0 864.5v-11M920.4 755.5v11M920.4 864.5v-11M965.8 755.5v11M965.8 864.5v-11M1011.2 755.5v11M1011.2 864.5v-11M1056.6 755.5v11M1056.6 864.5v-11M1102.0 755.5v11M1102.0 864.5v-11M1147.5 755.5v11M1147.5 864.5v-11M1192.9 755.5v11M1192.9 864.5v-11M269.5 774.5h11M1238.3 774.5h-11M269.5 800.5h11M1238.3 800.5h-11M269.5 826.3h11M1238.3 826.3h-11M269.5 852.1h11M1238.3 852.1h-11" stroke="#4a4a4a" stroke-width="0.9" fill="none"/>
<rect x="269.5" y="755.5" width="968.8" height="109.0" fill="none" stroke="#3c3c3c" stroke-width="1"/>
<text class="tk" transform="translate(262.0 781.8) scale(1.0 1)" text-anchor="end">200</text>
<text class="tk" transform="translate(262.0 807.8) scale(1.0 1)" text-anchor="end">400</text>
<text class="tk" transform="translate(262.0 833.6) scale(1.0 1)" text-anchor="end">600</text>
<text class="tk" transform="translate(262.0 859.4) scale(1.0 1)" text-anchor="end">800</text>
<text class="tk" transform="translate(218.5 810.0) rotate(-90) scale(1.0 1)" text-anchor="middle">Depth(m)</text>
<text class="tk" transform="translate(284.6 892.5) scale(1.0 1)" text-anchor="middle">A</text>
<text class="tk" transform="translate(330.1 892.5) scale(1.0 1)" text-anchor="middle">J</text>
<text class="tk" transform="translate(375.5 892.5) scale(1.0 1)" text-anchor="middle">O</text>
<text class="tk" transform="translate(420.9 892.5) scale(1.0 1)" text-anchor="middle">J</text>
<text class="tk" transform="translate(466.3 892.5) scale(1.0 1)" text-anchor="middle">A</text>
<text class="tk" transform="translate(511.7 892.5) scale(1.0 1)" text-anchor="middle">J</text>
<text class="tk" transform="translate(557.1 892.5) scale(1.0 1)" text-anchor="middle">O</text>
<text class="tk" transform="translate(602.5 892.5) scale(1.0 1)" text-anchor="middle">J</text>
<text class="tk" transform="translate(647.9 892.5) scale(1.0 1)" text-anchor="middle">A</text>
<text class="tk" transform="translate(693.3 892.5) scale(1.0 1)" text-anchor="middle">J</text>
<text class="tk" transform="translate(738.8 892.5) scale(1.0 1)" text-anchor="middle">O</text>
<text class="tk" transform="translate(784.2 892.5) scale(1.0 1)" text-anchor="middle">J</text>
<text class="tk" transform="translate(829.6 892.5) scale(1.0 1)" text-anchor="middle">A</text>
<text class="tk" transform="translate(875.0 892.5) scale(1.0 1)" text-anchor="middle">J</text>
<text class="tk" transform="translate(920.4 892.5) scale(1.0 1)" text-anchor="middle">O</text>
<text class="tk" transform="translate(965.8 892.5) scale(1.0 1)" text-anchor="middle">J</text>
<text class="tk" transform="translate(1011.2 892.5) scale(1.0 1)" text-anchor="middle">A</text>
<text class="tk" transform="translate(1056.6 892.5) scale(1.0 1)" text-anchor="middle">J</text>
<text class="tk" transform="translate(1102.0 892.5) scale(1.0 1)" text-anchor="middle">O</text>
<text class="tk" transform="translate(1147.5 892.5) scale(1.0 1)" text-anchor="middle">J</text>
<text class="tk" transform="translate(1192.9 892.5) scale(1.0 1)" text-anchor="middle">A</text>
<text class="tk" transform="translate(1238.3 892.5) scale(1.0 1)" text-anchor="middle">J</text>
<text class="ti" transform="translate(766.9 748.2) scale(1.03 1)" text-anchor="middle">Ua at 130°E, 8.5°N</text>
<text class="pl" transform="translate(0.0 746.0) scale(0.98 1)">E</text>
<text class="tk" transform="translate(235.9 714.0) scale(1.0 1)" text-anchor="middle">2016</text>
<text class="tk" transform="translate(420.9 714.0) scale(1.0 1)" text-anchor="middle">2017</text>
<text class="tk" transform="translate(420.9 917.0) scale(1.0 1)" text-anchor="middle">2017</text>
<text class="tk" transform="translate(602.5 714.0) scale(1.0 1)" text-anchor="middle">2018</text>
<text class="tk" transform="translate(602.5 917.0) scale(1.0 1)" text-anchor="middle">2018</text>
<text class="tk" transform="translate(784.2 714.0) scale(1.0 1)" text-anchor="middle">2019</text>
<text class="tk" transform="translate(784.2 917.0) scale(1.0 1)" text-anchor="middle">2019</text>
<text class="tk" transform="translate(965.8 714.0) scale(1.0 1)" text-anchor="middle">2020</text>
<text class="tk" transform="translate(965.8 917.0) scale(1.0 1)" text-anchor="middle">2020</text>
<text class="tk" transform="translate(1147.5 714.0) scale(1.0 1)" text-anchor="middle">2021</text>
<text class="tk" transform="translate(1147.5 917.0) scale(1.0 1)" text-anchor="middle">2021</text>
<path d="M652.6 202.3L616.4 376.8L503 551.7L454.8 756" stroke="#000" stroke-width="2.8" fill="none" stroke-linejoin="miter"/>
<defs><linearGradient id="cb" x1="0" y1="0" x2="0" y2="1">
<stop offset="0" stop-color="#800000"/><stop offset="0.21" stop-color="#fb0000"/><stop offset="0.25" stop-color="#ff0505"/><stop offset="0.5" stop-color="#e8e8e8"/><stop offset="0.75" stop-color="#0505ff"/><stop offset="0.79" stop-color="#0000fb"/><stop offset="1" stop-color="#000080"/></linearGradient></defs>
<rect x="1251.5" y="149.5" width="15.5" height="628.5" fill="url(#cb)"/>
<path d="M1251.5 150L1259.2 141.6L1267 150Z" fill="#800000"/>
<path d="M1251.5 777.5L1259.2 785.4L1267 777.5Z" fill="#000080"/>
<path d="M1251.5 778V149.5L1259.2 141.6L1267 149.5V778L1259.2 785.4Z" stroke="#262626" stroke-opacity="0.75" stroke-width="0.8" fill="none"/>
<text class="tk" transform="translate(1273.3 156.8) scale(1.0 1)">0.1</text>
<text class="tk" transform="translate(1273.3 219.7) scale(1.0 1)">0.08</text>
<text class="tk" transform="translate(1273.3 282.5) scale(1.0 1)">0.06</text>
<text class="tk" transform="translate(1273.3 345.4) scale(1.0 1)">0.04</text>
<text class="tk" transform="translate(1273.3 408.2) scale(1.0 1)">0.02</text>
<text class="tk" transform="translate(1273.3 471.1) scale(1.0 1)">0</text>
<text class="tk" transform="translate(1273.3 533.9) scale(1.0 1)">-0.02</text>
<text class="tk" transform="translate(1273.3 596.8) scale(1.0 1)">-0.04</text>
<text class="tk" transform="translate(1273.3 659.6) scale(1.0 1)">-0.06</text>
<text class="tk" transform="translate(1273.3 722.4) scale(1.0 1)">-0.08</text>
<text class="tk" transform="translate(1273.3 785.3) scale(1.0 1)">-0.1</text>
<path d="M1267 149.5h-5.5M1267 212.3h-5.5M1267 275.2h-5.5M1267 338.1h-5.5M1267 400.9h-5.5M1267 463.8h-5.5M1267 526.6h-5.5M1267 589.5h-5.5M1267 652.3h-5.5M1267 715.1h-5.5M1267 778.0h-5.5" stroke="#262626" stroke-width="0.9" fill="none"/>
</svg>
</body></html>
